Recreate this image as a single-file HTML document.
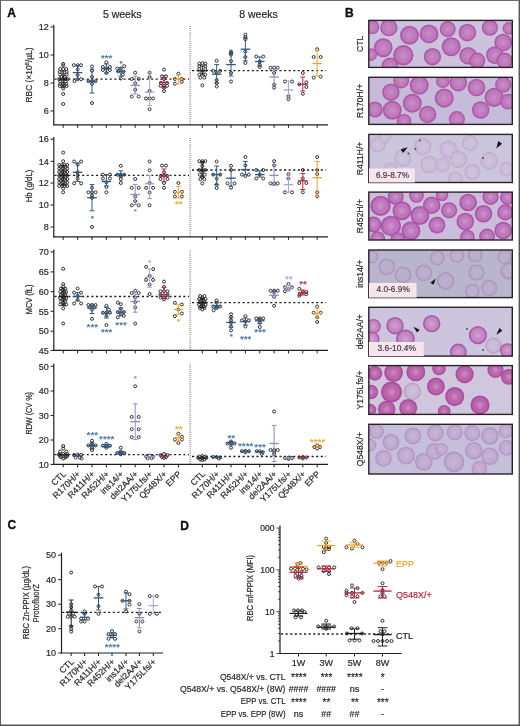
<!DOCTYPE html>
<html><head><meta charset="utf-8"><style>
html,body{margin:0;padding:0;background:#fff;width:520px;height:726px;overflow:hidden}
svg{display:block;filter:blur(0.3px)}
text{font-family:"Liberation Sans",sans-serif}
</style></head><body>
<svg width="520" height="726" viewBox="0 0 520 726">
<rect x="0" y="0" width="520" height="726" fill="#fff"/>
<line x1="53.8" y1="25" x2="53.8" y2="125.3" stroke="#1e1e1e" stroke-width="1.2"/>
<line x1="53.3" y1="124.8" x2="328" y2="124.8" stroke="#1e1e1e" stroke-width="1.2"/>
<line x1="50.5" y1="27" x2="53.8" y2="27" stroke="#1e1e1e" stroke-width="1"/>
<text x="48.8" y="30.2" font-size="9" text-anchor="end" fill="#2a2a2a" stroke="#2a2a2a" stroke-width="0.2">12</text>
<line x1="50.5" y1="55" x2="53.8" y2="55" stroke="#1e1e1e" stroke-width="1"/>
<text x="48.8" y="58.2" font-size="9" text-anchor="end" fill="#2a2a2a" stroke="#2a2a2a" stroke-width="0.2">10</text>
<line x1="50.5" y1="83" x2="53.8" y2="83" stroke="#1e1e1e" stroke-width="1"/>
<text x="48.8" y="86.2" font-size="9" text-anchor="end" fill="#2a2a2a" stroke="#2a2a2a" stroke-width="0.2">8</text>
<line x1="50.5" y1="111" x2="53.8" y2="111" stroke="#1e1e1e" stroke-width="1"/>
<text x="48.8" y="114.2" font-size="9" text-anchor="end" fill="#2a2a2a" stroke="#2a2a2a" stroke-width="0.2">6</text>
<line x1="63.2" y1="124.8" x2="63.2" y2="127.8" stroke="#1e1e1e" stroke-width="1"/>
<line x1="77.6" y1="124.8" x2="77.6" y2="127.8" stroke="#1e1e1e" stroke-width="1"/>
<line x1="92" y1="124.8" x2="92" y2="127.8" stroke="#1e1e1e" stroke-width="1"/>
<line x1="106.4" y1="124.8" x2="106.4" y2="127.8" stroke="#1e1e1e" stroke-width="1"/>
<line x1="120.8" y1="124.8" x2="120.8" y2="127.8" stroke="#1e1e1e" stroke-width="1"/>
<line x1="135.2" y1="124.8" x2="135.2" y2="127.8" stroke="#1e1e1e" stroke-width="1"/>
<line x1="149.6" y1="124.8" x2="149.6" y2="127.8" stroke="#1e1e1e" stroke-width="1"/>
<line x1="164" y1="124.8" x2="164" y2="127.8" stroke="#1e1e1e" stroke-width="1"/>
<line x1="178.4" y1="124.8" x2="178.4" y2="127.8" stroke="#1e1e1e" stroke-width="1"/>
<line x1="202.3" y1="124.8" x2="202.3" y2="127.8" stroke="#1e1e1e" stroke-width="1"/>
<line x1="216.66" y1="124.8" x2="216.66" y2="127.8" stroke="#1e1e1e" stroke-width="1"/>
<line x1="231.02" y1="124.8" x2="231.02" y2="127.8" stroke="#1e1e1e" stroke-width="1"/>
<line x1="245.38" y1="124.8" x2="245.38" y2="127.8" stroke="#1e1e1e" stroke-width="1"/>
<line x1="259.74" y1="124.8" x2="259.74" y2="127.8" stroke="#1e1e1e" stroke-width="1"/>
<line x1="274.1" y1="124.8" x2="274.1" y2="127.8" stroke="#1e1e1e" stroke-width="1"/>
<line x1="288.46" y1="124.8" x2="288.46" y2="127.8" stroke="#1e1e1e" stroke-width="1"/>
<line x1="302.82" y1="124.8" x2="302.82" y2="127.8" stroke="#1e1e1e" stroke-width="1"/>
<line x1="317.18" y1="124.8" x2="317.18" y2="127.8" stroke="#1e1e1e" stroke-width="1"/>
<line x1="190.1" y1="26" x2="190.1" y2="124.8" stroke="#3a3a3a" stroke-width="0.9" stroke-dasharray="0.9 1.2"/>
<text transform="translate(31.81 75) rotate(-90)" font-size="8.6" text-anchor="middle" fill="#2a2a2a" textLength="55" lengthAdjust="spacingAndGlyphs" stroke="#2a2a2a" stroke-width="0.2">RBC (×10<tspan font-size="6" dy="-3">6</tspan><tspan dy="3">/µL)</tspan></text>
<line x1="54.5" y1="79.2" x2="189" y2="79.2" stroke="#1e1e1e" stroke-width="1.3" stroke-dasharray="2.1 2.5"/>
<line x1="192" y1="70.6" x2="326" y2="70.6" stroke="#1e1e1e" stroke-width="1.3" stroke-dasharray="2.1 2.5"/>
<circle cx="63.2" cy="63.9" r="1.5" fill="none" stroke="#333333" stroke-width="1"/>
<circle cx="63.2" cy="65.4" r="1.5" fill="none" stroke="#333333" stroke-width="1"/>
<circle cx="60.2" cy="69" r="1.5" fill="none" stroke="#333333" stroke-width="1"/>
<circle cx="63.2" cy="69" r="1.5" fill="none" stroke="#333333" stroke-width="1"/>
<circle cx="66.2" cy="69" r="1.5" fill="none" stroke="#333333" stroke-width="1"/>
<circle cx="59.7" cy="72" r="1.5" fill="none" stroke="#333333" stroke-width="1"/>
<circle cx="66.7" cy="72" r="1.5" fill="none" stroke="#333333" stroke-width="1"/>
<circle cx="60.2" cy="74.6" r="1.5" fill="none" stroke="#333333" stroke-width="1"/>
<circle cx="63.2" cy="74.6" r="1.5" fill="none" stroke="#333333" stroke-width="1"/>
<circle cx="66.7" cy="74.6" r="1.5" fill="none" stroke="#333333" stroke-width="1"/>
<circle cx="61.4" cy="77" r="1.5" fill="none" stroke="#333333" stroke-width="1"/>
<circle cx="65" cy="77" r="1.5" fill="none" stroke="#333333" stroke-width="1"/>
<circle cx="59.2" cy="79.2" r="1.5" fill="none" stroke="#333333" stroke-width="1"/>
<circle cx="62.2" cy="79.2" r="1.5" fill="none" stroke="#333333" stroke-width="1"/>
<circle cx="65.2" cy="79.2" r="1.5" fill="none" stroke="#333333" stroke-width="1"/>
<circle cx="67.7" cy="79.2" r="1.5" fill="none" stroke="#333333" stroke-width="1"/>
<circle cx="60.2" cy="81.5" r="1.5" fill="none" stroke="#333333" stroke-width="1"/>
<circle cx="65.7" cy="81.5" r="1.5" fill="none" stroke="#333333" stroke-width="1"/>
<circle cx="60.2" cy="83.8" r="1.5" fill="none" stroke="#333333" stroke-width="1"/>
<circle cx="63.2" cy="83.8" r="1.5" fill="none" stroke="#333333" stroke-width="1"/>
<circle cx="66.2" cy="83.8" r="1.5" fill="none" stroke="#333333" stroke-width="1"/>
<circle cx="59.7" cy="86" r="1.5" fill="none" stroke="#333333" stroke-width="1"/>
<circle cx="63.2" cy="86.5" r="1.5" fill="none" stroke="#333333" stroke-width="1"/>
<circle cx="66.7" cy="86" r="1.5" fill="none" stroke="#333333" stroke-width="1"/>
<circle cx="63.2" cy="88.5" r="1.5" fill="none" stroke="#333333" stroke-width="1"/>
<circle cx="63.2" cy="94" r="1.5" fill="none" stroke="#333333" stroke-width="1"/>
<circle cx="63.2" cy="104" r="1.5" fill="none" stroke="#333333" stroke-width="1"/>
<line x1="63.2" y1="71" x2="63.2" y2="87" stroke="#1e1e1e" stroke-width="0.99"/>
<line x1="60.8" y1="71" x2="65.6" y2="71" stroke="#1e1e1e" stroke-width="0.99"/>
<line x1="60.8" y1="87" x2="65.6" y2="87" stroke="#1e1e1e" stroke-width="0.99"/>
<line x1="58.4" y1="79.2" x2="68" y2="79.2" stroke="#1e1e1e" stroke-width="1.32"/>
<circle cx="73.8" cy="65.2" r="1.5" fill="none" stroke="#333333" stroke-width="1"/>
<circle cx="77.6" cy="65.2" r="1.5" fill="none" stroke="#333333" stroke-width="1"/>
<circle cx="81" cy="65.2" r="1.5" fill="none" stroke="#333333" stroke-width="1"/>
<circle cx="77.6" cy="69.4" r="1.5" fill="none" stroke="#333333" stroke-width="1"/>
<circle cx="77.6" cy="75" r="1.5" fill="none" stroke="#333333" stroke-width="1"/>
<circle cx="77.6" cy="79.2" r="1.5" fill="none" stroke="#333333" stroke-width="1"/>
<circle cx="81.1" cy="79.2" r="1.5" fill="none" stroke="#333333" stroke-width="1"/>
<circle cx="74.6" cy="81.1" r="1.5" fill="none" stroke="#333333" stroke-width="1"/>
<line x1="77.6" y1="65.5" x2="77.6" y2="79" stroke="#2b5886" stroke-width="0.99"/>
<line x1="75.2" y1="65.5" x2="80" y2="65.5" stroke="#2b5886" stroke-width="0.99"/>
<line x1="75.2" y1="79" x2="80" y2="79" stroke="#2b5886" stroke-width="0.99"/>
<line x1="72.8" y1="72.6" x2="82.4" y2="72.6" stroke="#2b5886" stroke-width="1.32"/>
<circle cx="92" cy="66.5" r="1.5" fill="none" stroke="#333333" stroke-width="1"/>
<circle cx="92" cy="70.8" r="1.5" fill="none" stroke="#333333" stroke-width="1"/>
<circle cx="92" cy="77" r="1.5" fill="none" stroke="#333333" stroke-width="1"/>
<circle cx="88.5" cy="81.2" r="1.5" fill="none" stroke="#333333" stroke-width="1"/>
<circle cx="92" cy="81.2" r="1.5" fill="none" stroke="#333333" stroke-width="1"/>
<circle cx="95.5" cy="81.2" r="1.5" fill="none" stroke="#333333" stroke-width="1"/>
<circle cx="92" cy="83.8" r="1.5" fill="none" stroke="#333333" stroke-width="1"/>
<circle cx="92" cy="103" r="1.5" fill="none" stroke="#333333" stroke-width="1"/>
<line x1="92" y1="69.2" x2="92" y2="93" stroke="#2b5886" stroke-width="0.99"/>
<line x1="89.6" y1="69.2" x2="94.4" y2="69.2" stroke="#2b5886" stroke-width="0.99"/>
<line x1="89.6" y1="93" x2="94.4" y2="93" stroke="#2b5886" stroke-width="0.99"/>
<line x1="87.2" y1="81.2" x2="96.8" y2="81.2" stroke="#2b5886" stroke-width="1.32"/>
<circle cx="106.4" cy="62.3" r="1.5" fill="none" stroke="#333333" stroke-width="1"/>
<circle cx="102.9" cy="67" r="1.5" fill="none" stroke="#333333" stroke-width="1"/>
<circle cx="109.9" cy="67" r="1.5" fill="none" stroke="#333333" stroke-width="1"/>
<circle cx="106.4" cy="68.5" r="1.5" fill="none" stroke="#333333" stroke-width="1"/>
<circle cx="102.9" cy="70" r="1.5" fill="none" stroke="#333333" stroke-width="1"/>
<circle cx="109.9" cy="70" r="1.5" fill="none" stroke="#333333" stroke-width="1"/>
<circle cx="106.4" cy="73" r="1.5" fill="none" stroke="#333333" stroke-width="1"/>
<line x1="106.4" y1="64" x2="106.4" y2="73" stroke="#2b5886" stroke-width="0.99"/>
<line x1="104" y1="64" x2="108.8" y2="64" stroke="#2b5886" stroke-width="0.99"/>
<line x1="104" y1="73" x2="108.8" y2="73" stroke="#2b5886" stroke-width="0.99"/>
<line x1="101.6" y1="68.5" x2="111.2" y2="68.5" stroke="#2b5886" stroke-width="1.32"/>
<text x="106.7" y="61" font-size="9.8" text-anchor="middle" fill="#3d6fa8" stroke="#3d6fa8" stroke-width="0.2">***</text>
<circle cx="124.3" cy="66.2" r="1.5" fill="none" stroke="#333333" stroke-width="1"/>
<circle cx="117.3" cy="68.5" r="1.5" fill="none" stroke="#333333" stroke-width="1"/>
<circle cx="120.8" cy="68.5" r="1.5" fill="none" stroke="#333333" stroke-width="1"/>
<circle cx="118.3" cy="71.5" r="1.5" fill="none" stroke="#333333" stroke-width="1"/>
<circle cx="123.3" cy="71.5" r="1.5" fill="none" stroke="#333333" stroke-width="1"/>
<circle cx="122.8" cy="74.6" r="1.5" fill="none" stroke="#333333" stroke-width="1"/>
<circle cx="120.8" cy="78.5" r="1.5" fill="none" stroke="#333333" stroke-width="1"/>
<line x1="120.8" y1="67.7" x2="120.8" y2="76" stroke="#2b5886" stroke-width="0.99"/>
<line x1="118.4" y1="67.7" x2="123.2" y2="67.7" stroke="#2b5886" stroke-width="0.99"/>
<line x1="118.4" y1="76" x2="123.2" y2="76" stroke="#2b5886" stroke-width="0.99"/>
<line x1="116" y1="71.5" x2="125.6" y2="71.5" stroke="#2b5886" stroke-width="1.32"/>
<text x="121" y="66.4" font-size="8" text-anchor="middle" fill="#3d6fa8" stroke="#3d6fa8" stroke-width="0.2">*</text>
<circle cx="135.2" cy="72.7" r="1.5" fill="none" stroke="#333333" stroke-width="1"/>
<circle cx="131.7" cy="79" r="1.5" fill="none" stroke="#333333" stroke-width="1"/>
<circle cx="138.7" cy="79" r="1.5" fill="none" stroke="#333333" stroke-width="1"/>
<circle cx="135.2" cy="83.3" r="1.5" fill="none" stroke="#333333" stroke-width="1"/>
<circle cx="135.2" cy="89.8" r="1.5" fill="none" stroke="#333333" stroke-width="1"/>
<circle cx="131.7" cy="96.5" r="1.5" fill="none" stroke="#333333" stroke-width="1"/>
<circle cx="138.7" cy="96.5" r="1.5" fill="none" stroke="#333333" stroke-width="1"/>
<line x1="135.2" y1="76.3" x2="135.2" y2="93.8" stroke="#8a8cc4" stroke-width="0.99"/>
<line x1="132.8" y1="76.3" x2="137.6" y2="76.3" stroke="#8a8cc4" stroke-width="0.99"/>
<line x1="132.8" y1="93.8" x2="137.6" y2="93.8" stroke="#8a8cc4" stroke-width="0.99"/>
<line x1="130.4" y1="85.4" x2="140" y2="85.4" stroke="#8a8cc4" stroke-width="1.32"/>
<circle cx="149.6" cy="72.7" r="1.5" fill="none" stroke="#333333" stroke-width="1"/>
<circle cx="149.6" cy="77" r="1.5" fill="none" stroke="#333333" stroke-width="1"/>
<circle cx="149.6" cy="90.9" r="1.5" fill="none" stroke="#333333" stroke-width="1"/>
<circle cx="146" cy="98.5" r="1.5" fill="none" stroke="#333333" stroke-width="1"/>
<circle cx="149.6" cy="98.5" r="1.5" fill="none" stroke="#333333" stroke-width="1"/>
<circle cx="153.2" cy="98.5" r="1.5" fill="none" stroke="#333333" stroke-width="1"/>
<circle cx="149.6" cy="109.3" r="1.5" fill="none" stroke="#333333" stroke-width="1"/>
<line x1="149.6" y1="72.3" x2="149.6" y2="105.5" stroke="#a3a4dc" stroke-width="0.99"/>
<line x1="147.2" y1="72.3" x2="152" y2="72.3" stroke="#a3a4dc" stroke-width="0.99"/>
<line x1="147.2" y1="105.5" x2="152" y2="105.5" stroke="#a3a4dc" stroke-width="0.99"/>
<line x1="144.8" y1="92.2" x2="154.4" y2="92.2" stroke="#a3a4dc" stroke-width="1.32"/>
<circle cx="164" cy="69.6" r="1.5" fill="none" stroke="#333333" stroke-width="1"/>
<circle cx="162" cy="76.3" r="1.5" fill="none" stroke="#333333" stroke-width="1"/>
<circle cx="166" cy="76.3" r="1.5" fill="none" stroke="#333333" stroke-width="1"/>
<circle cx="164" cy="79" r="1.5" fill="none" stroke="#333333" stroke-width="1"/>
<circle cx="161" cy="83" r="1.5" fill="none" stroke="#333333" stroke-width="1"/>
<circle cx="167" cy="83" r="1.5" fill="none" stroke="#333333" stroke-width="1"/>
<circle cx="160.5" cy="85.8" r="1.5" fill="none" stroke="#333333" stroke-width="1"/>
<circle cx="164" cy="85.8" r="1.5" fill="none" stroke="#333333" stroke-width="1"/>
<circle cx="167" cy="85.8" r="1.5" fill="none" stroke="#333333" stroke-width="1"/>
<circle cx="164" cy="87.8" r="1.5" fill="none" stroke="#333333" stroke-width="1"/>
<circle cx="164" cy="91.1" r="1.5" fill="none" stroke="#333333" stroke-width="1"/>
<line x1="164" y1="75.7" x2="164" y2="87.8" stroke="#c0203e" stroke-width="0.99"/>
<line x1="161.6" y1="75.7" x2="166.4" y2="75.7" stroke="#c0203e" stroke-width="0.99"/>
<line x1="161.6" y1="87.8" x2="166.4" y2="87.8" stroke="#c0203e" stroke-width="0.99"/>
<line x1="159.2" y1="82.4" x2="168.8" y2="82.4" stroke="#c0203e" stroke-width="1.32"/>
<circle cx="178.4" cy="73.6" r="1.5" fill="none" stroke="#333333" stroke-width="1"/>
<circle cx="174.9" cy="79" r="1.5" fill="none" stroke="#333333" stroke-width="1"/>
<circle cx="181.9" cy="79" r="1.5" fill="none" stroke="#333333" stroke-width="1"/>
<circle cx="181.9" cy="81.7" r="1.5" fill="none" stroke="#333333" stroke-width="1"/>
<circle cx="174.9" cy="83.7" r="1.5" fill="none" stroke="#333333" stroke-width="1"/>
<line x1="178.4" y1="75" x2="178.4" y2="84" stroke="#f2a22a" stroke-width="0.99"/>
<line x1="176" y1="75" x2="180.8" y2="75" stroke="#f2a22a" stroke-width="0.99"/>
<line x1="176" y1="84" x2="180.8" y2="84" stroke="#f2a22a" stroke-width="0.99"/>
<line x1="173.6" y1="79.4" x2="183.2" y2="79.4" stroke="#f2a22a" stroke-width="1.32"/>
<circle cx="199.3" cy="63.5" r="1.5" fill="none" stroke="#333333" stroke-width="1"/>
<circle cx="202.3" cy="63.2" r="1.5" fill="none" stroke="#333333" stroke-width="1"/>
<circle cx="205.3" cy="63.5" r="1.5" fill="none" stroke="#333333" stroke-width="1"/>
<circle cx="199.3" cy="66.2" r="1.5" fill="none" stroke="#333333" stroke-width="1"/>
<circle cx="205.3" cy="66.2" r="1.5" fill="none" stroke="#333333" stroke-width="1"/>
<circle cx="199.3" cy="69" r="1.5" fill="none" stroke="#333333" stroke-width="1"/>
<circle cx="205.3" cy="69" r="1.5" fill="none" stroke="#333333" stroke-width="1"/>
<circle cx="202.3" cy="72.3" r="1.5" fill="none" stroke="#333333" stroke-width="1"/>
<circle cx="199.3" cy="74.6" r="1.5" fill="none" stroke="#333333" stroke-width="1"/>
<circle cx="205.3" cy="74.6" r="1.5" fill="none" stroke="#333333" stroke-width="1"/>
<circle cx="200.3" cy="77.7" r="1.5" fill="none" stroke="#333333" stroke-width="1"/>
<circle cx="204.3" cy="77.7" r="1.5" fill="none" stroke="#333333" stroke-width="1"/>
<circle cx="202.3" cy="85.4" r="1.5" fill="none" stroke="#333333" stroke-width="1"/>
<line x1="202.3" y1="66" x2="202.3" y2="75" stroke="#1e1e1e" stroke-width="0.99"/>
<line x1="199.9" y1="66" x2="204.7" y2="66" stroke="#1e1e1e" stroke-width="0.99"/>
<line x1="199.9" y1="75" x2="204.7" y2="75" stroke="#1e1e1e" stroke-width="0.99"/>
<line x1="197.5" y1="70.8" x2="207.1" y2="70.8" stroke="#1e1e1e" stroke-width="1.32"/>
<circle cx="216.66" cy="60.8" r="1.5" fill="none" stroke="#333333" stroke-width="1"/>
<circle cx="213.16" cy="70.8" r="1.5" fill="none" stroke="#333333" stroke-width="1"/>
<circle cx="220.16" cy="70.8" r="1.5" fill="none" stroke="#333333" stroke-width="1"/>
<circle cx="216.66" cy="73" r="1.5" fill="none" stroke="#333333" stroke-width="1"/>
<circle cx="216.66" cy="80" r="1.5" fill="none" stroke="#333333" stroke-width="1"/>
<circle cx="216.66" cy="83" r="1.5" fill="none" stroke="#333333" stroke-width="1"/>
<circle cx="216.66" cy="86.5" r="1.5" fill="none" stroke="#333333" stroke-width="1"/>
<line x1="216.66" y1="64.6" x2="216.66" y2="83" stroke="#2b5886" stroke-width="0.99"/>
<line x1="214.26" y1="64.6" x2="219.06" y2="64.6" stroke="#2b5886" stroke-width="0.99"/>
<line x1="214.26" y1="83" x2="219.06" y2="83" stroke="#2b5886" stroke-width="0.99"/>
<line x1="211.86" y1="74.2" x2="221.46" y2="74.2" stroke="#2b5886" stroke-width="1.32"/>
<circle cx="231.02" cy="51.5" r="1.5" fill="none" stroke="#333333" stroke-width="1"/>
<circle cx="231.02" cy="53" r="1.5" fill="none" stroke="#333333" stroke-width="1"/>
<circle cx="231.02" cy="54.6" r="1.5" fill="none" stroke="#333333" stroke-width="1"/>
<circle cx="231.02" cy="61.2" r="1.5" fill="none" stroke="#333333" stroke-width="1"/>
<circle cx="231.02" cy="73" r="1.5" fill="none" stroke="#333333" stroke-width="1"/>
<circle cx="231.02" cy="81.5" r="1.5" fill="none" stroke="#333333" stroke-width="1"/>
<line x1="231.02" y1="53.5" x2="231.02" y2="76" stroke="#2b5886" stroke-width="0.99"/>
<line x1="228.62" y1="53.5" x2="233.42" y2="53.5" stroke="#2b5886" stroke-width="0.99"/>
<line x1="228.62" y1="76" x2="233.42" y2="76" stroke="#2b5886" stroke-width="0.99"/>
<line x1="226.22" y1="64.6" x2="235.82" y2="64.6" stroke="#2b5886" stroke-width="1.32"/>
<circle cx="245.38" cy="34.6" r="1.5" fill="none" stroke="#333333" stroke-width="1"/>
<circle cx="245.38" cy="37" r="1.5" fill="none" stroke="#333333" stroke-width="1"/>
<circle cx="245.38" cy="39.2" r="1.5" fill="none" stroke="#333333" stroke-width="1"/>
<circle cx="245.38" cy="51.5" r="1.5" fill="none" stroke="#333333" stroke-width="1"/>
<circle cx="245.38" cy="57" r="1.5" fill="none" stroke="#333333" stroke-width="1"/>
<circle cx="245.38" cy="63" r="1.5" fill="none" stroke="#333333" stroke-width="1"/>
<line x1="245.38" y1="38" x2="245.38" y2="60.8" stroke="#2b5886" stroke-width="0.99"/>
<line x1="242.98" y1="38" x2="247.78" y2="38" stroke="#2b5886" stroke-width="0.99"/>
<line x1="242.98" y1="60.8" x2="247.78" y2="60.8" stroke="#2b5886" stroke-width="0.99"/>
<line x1="240.58" y1="49.2" x2="250.18" y2="49.2" stroke="#2b5886" stroke-width="1.32"/>
<circle cx="256.24" cy="56.5" r="1.5" fill="none" stroke="#333333" stroke-width="1"/>
<circle cx="263.24" cy="56.5" r="1.5" fill="none" stroke="#333333" stroke-width="1"/>
<circle cx="259.74" cy="61.5" r="1.5" fill="none" stroke="#333333" stroke-width="1"/>
<circle cx="259.74" cy="64.6" r="1.5" fill="none" stroke="#333333" stroke-width="1"/>
<circle cx="259.74" cy="67" r="1.5" fill="none" stroke="#333333" stroke-width="1"/>
<line x1="259.74" y1="57" x2="259.74" y2="66" stroke="#2b5886" stroke-width="0.99"/>
<line x1="257.34" y1="57" x2="262.14" y2="57" stroke="#2b5886" stroke-width="0.99"/>
<line x1="257.34" y1="66" x2="262.14" y2="66" stroke="#2b5886" stroke-width="0.99"/>
<line x1="254.94" y1="61.5" x2="264.54" y2="61.5" stroke="#2b5886" stroke-width="1.32"/>
<circle cx="270.6" cy="67.7" r="1.5" fill="none" stroke="#333333" stroke-width="1"/>
<circle cx="274.1" cy="67.7" r="1.5" fill="none" stroke="#333333" stroke-width="1"/>
<circle cx="277.6" cy="67.7" r="1.5" fill="none" stroke="#333333" stroke-width="1"/>
<circle cx="274.1" cy="73" r="1.5" fill="none" stroke="#333333" stroke-width="1"/>
<circle cx="274.1" cy="84.6" r="1.5" fill="none" stroke="#333333" stroke-width="1"/>
<circle cx="274.1" cy="87.7" r="1.5" fill="none" stroke="#333333" stroke-width="1"/>
<line x1="274.1" y1="70" x2="274.1" y2="85" stroke="#8a8cc4" stroke-width="0.99"/>
<line x1="271.7" y1="70" x2="276.5" y2="70" stroke="#8a8cc4" stroke-width="0.99"/>
<line x1="271.7" y1="85" x2="276.5" y2="85" stroke="#8a8cc4" stroke-width="0.99"/>
<line x1="269.3" y1="77" x2="278.9" y2="77" stroke="#8a8cc4" stroke-width="1.32"/>
<circle cx="284.96" cy="81.5" r="1.5" fill="none" stroke="#333333" stroke-width="1"/>
<circle cx="291.96" cy="81.5" r="1.5" fill="none" stroke="#333333" stroke-width="1"/>
<circle cx="288.46" cy="96.2" r="1.5" fill="none" stroke="#333333" stroke-width="1"/>
<circle cx="288.46" cy="99.2" r="1.5" fill="none" stroke="#333333" stroke-width="1"/>
<line x1="288.46" y1="80.8" x2="288.46" y2="99" stroke="#a3a4dc" stroke-width="0.99"/>
<line x1="286.06" y1="80.8" x2="290.86" y2="80.8" stroke="#a3a4dc" stroke-width="0.99"/>
<line x1="286.06" y1="99" x2="290.86" y2="99" stroke="#a3a4dc" stroke-width="0.99"/>
<line x1="283.66" y1="90" x2="293.26" y2="90" stroke="#a3a4dc" stroke-width="1.32"/>
<circle cx="302.82" cy="73" r="1.5" fill="none" stroke="#333333" stroke-width="1"/>
<circle cx="306.32" cy="82.3" r="1.5" fill="none" stroke="#333333" stroke-width="1"/>
<circle cx="299.32" cy="84.3" r="1.5" fill="none" stroke="#333333" stroke-width="1"/>
<circle cx="306.32" cy="87" r="1.5" fill="none" stroke="#333333" stroke-width="1"/>
<circle cx="302.82" cy="93.8" r="1.5" fill="none" stroke="#333333" stroke-width="1"/>
<line x1="302.82" y1="77" x2="302.82" y2="91" stroke="#c0203e" stroke-width="0.99"/>
<line x1="300.42" y1="77" x2="305.22" y2="77" stroke="#c0203e" stroke-width="0.99"/>
<line x1="300.42" y1="91" x2="305.22" y2="91" stroke="#c0203e" stroke-width="0.99"/>
<line x1="298.02" y1="84.3" x2="307.62" y2="84.3" stroke="#c0203e" stroke-width="1.32"/>
<circle cx="317.18" cy="49.2" r="1.5" fill="none" stroke="#333333" stroke-width="1"/>
<circle cx="313.68" cy="57" r="1.5" fill="none" stroke="#333333" stroke-width="1"/>
<circle cx="320.68" cy="57" r="1.5" fill="none" stroke="#333333" stroke-width="1"/>
<circle cx="313.68" cy="77.7" r="1.5" fill="none" stroke="#333333" stroke-width="1"/>
<circle cx="320.68" cy="76.6" r="1.5" fill="none" stroke="#333333" stroke-width="1"/>
<line x1="317.18" y1="50.8" x2="317.18" y2="76" stroke="#f2a22a" stroke-width="0.99"/>
<line x1="314.78" y1="50.8" x2="319.58" y2="50.8" stroke="#f2a22a" stroke-width="0.99"/>
<line x1="314.78" y1="76" x2="319.58" y2="76" stroke="#f2a22a" stroke-width="0.99"/>
<line x1="312.38" y1="63.5" x2="321.98" y2="63.5" stroke="#f2a22a" stroke-width="1.32"/>
<line x1="53.8" y1="137" x2="53.8" y2="237.4" stroke="#1e1e1e" stroke-width="1.2"/>
<line x1="53.3" y1="236.9" x2="328" y2="236.9" stroke="#1e1e1e" stroke-width="1.2"/>
<line x1="50.5" y1="139.2" x2="53.8" y2="139.2" stroke="#1e1e1e" stroke-width="1"/>
<text x="48.8" y="142.4" font-size="9" text-anchor="end" fill="#2a2a2a" stroke="#2a2a2a" stroke-width="0.2">16</text>
<line x1="50.5" y1="161.3" x2="53.8" y2="161.3" stroke="#1e1e1e" stroke-width="1"/>
<text x="48.8" y="164.5" font-size="9" text-anchor="end" fill="#2a2a2a" stroke="#2a2a2a" stroke-width="0.2">14</text>
<line x1="50.5" y1="183" x2="53.8" y2="183" stroke="#1e1e1e" stroke-width="1"/>
<text x="48.8" y="186.2" font-size="9" text-anchor="end" fill="#2a2a2a" stroke="#2a2a2a" stroke-width="0.2">12</text>
<line x1="50.5" y1="205" x2="53.8" y2="205" stroke="#1e1e1e" stroke-width="1"/>
<text x="48.8" y="208.2" font-size="9" text-anchor="end" fill="#2a2a2a" stroke="#2a2a2a" stroke-width="0.2">10</text>
<line x1="50.5" y1="227" x2="53.8" y2="227" stroke="#1e1e1e" stroke-width="1"/>
<text x="48.8" y="230.2" font-size="9" text-anchor="end" fill="#2a2a2a" stroke="#2a2a2a" stroke-width="0.2">8</text>
<line x1="63.2" y1="236.9" x2="63.2" y2="239.9" stroke="#1e1e1e" stroke-width="1"/>
<line x1="77.6" y1="236.9" x2="77.6" y2="239.9" stroke="#1e1e1e" stroke-width="1"/>
<line x1="92" y1="236.9" x2="92" y2="239.9" stroke="#1e1e1e" stroke-width="1"/>
<line x1="106.4" y1="236.9" x2="106.4" y2="239.9" stroke="#1e1e1e" stroke-width="1"/>
<line x1="120.8" y1="236.9" x2="120.8" y2="239.9" stroke="#1e1e1e" stroke-width="1"/>
<line x1="135.2" y1="236.9" x2="135.2" y2="239.9" stroke="#1e1e1e" stroke-width="1"/>
<line x1="149.6" y1="236.9" x2="149.6" y2="239.9" stroke="#1e1e1e" stroke-width="1"/>
<line x1="164" y1="236.9" x2="164" y2="239.9" stroke="#1e1e1e" stroke-width="1"/>
<line x1="178.4" y1="236.9" x2="178.4" y2="239.9" stroke="#1e1e1e" stroke-width="1"/>
<line x1="202.3" y1="236.9" x2="202.3" y2="239.9" stroke="#1e1e1e" stroke-width="1"/>
<line x1="216.66" y1="236.9" x2="216.66" y2="239.9" stroke="#1e1e1e" stroke-width="1"/>
<line x1="231.02" y1="236.9" x2="231.02" y2="239.9" stroke="#1e1e1e" stroke-width="1"/>
<line x1="245.38" y1="236.9" x2="245.38" y2="239.9" stroke="#1e1e1e" stroke-width="1"/>
<line x1="259.74" y1="236.9" x2="259.74" y2="239.9" stroke="#1e1e1e" stroke-width="1"/>
<line x1="274.1" y1="236.9" x2="274.1" y2="239.9" stroke="#1e1e1e" stroke-width="1"/>
<line x1="288.46" y1="236.9" x2="288.46" y2="239.9" stroke="#1e1e1e" stroke-width="1"/>
<line x1="302.82" y1="236.9" x2="302.82" y2="239.9" stroke="#1e1e1e" stroke-width="1"/>
<line x1="317.18" y1="236.9" x2="317.18" y2="239.9" stroke="#1e1e1e" stroke-width="1"/>
<line x1="190.1" y1="138" x2="190.1" y2="236.9" stroke="#3a3a3a" stroke-width="0.9" stroke-dasharray="0.9 1.2"/>
<text transform="translate(31.81 186) rotate(-90)" font-size="8.6" text-anchor="middle" fill="#2a2a2a" textLength="32.7" lengthAdjust="spacingAndGlyphs" stroke="#2a2a2a" stroke-width="0.2">Hb (g/dL)</text>
<line x1="54.5" y1="175.4" x2="189" y2="175.4" stroke="#1e1e1e" stroke-width="1.3" stroke-dasharray="2.1 2.5"/>
<line x1="192" y1="170" x2="326" y2="170" stroke="#1e1e1e" stroke-width="1.3" stroke-dasharray="2.1 2.5"/>
<circle cx="63.2" cy="152.6" r="1.5" fill="none" stroke="#333333" stroke-width="1"/>
<circle cx="63.2" cy="161.2" r="1.5" fill="none" stroke="#333333" stroke-width="1"/>
<circle cx="59.2" cy="165" r="1.5" fill="none" stroke="#333333" stroke-width="1"/>
<circle cx="61.9" cy="165" r="1.5" fill="none" stroke="#333333" stroke-width="1"/>
<circle cx="64.5" cy="165" r="1.5" fill="none" stroke="#333333" stroke-width="1"/>
<circle cx="67.2" cy="165" r="1.5" fill="none" stroke="#333333" stroke-width="1"/>
<circle cx="60.6" cy="166.8" r="1.5" fill="none" stroke="#333333" stroke-width="1"/>
<circle cx="65.8" cy="166.8" r="1.5" fill="none" stroke="#333333" stroke-width="1"/>
<circle cx="59.2" cy="168.5" r="1.5" fill="none" stroke="#333333" stroke-width="1"/>
<circle cx="63.2" cy="168.5" r="1.5" fill="none" stroke="#333333" stroke-width="1"/>
<circle cx="67.2" cy="168.5" r="1.5" fill="none" stroke="#333333" stroke-width="1"/>
<circle cx="61.2" cy="170.2" r="1.5" fill="none" stroke="#333333" stroke-width="1"/>
<circle cx="65.2" cy="170.2" r="1.5" fill="none" stroke="#333333" stroke-width="1"/>
<circle cx="59.2" cy="172" r="1.5" fill="none" stroke="#333333" stroke-width="1"/>
<circle cx="61.9" cy="172" r="1.5" fill="none" stroke="#333333" stroke-width="1"/>
<circle cx="64.5" cy="172" r="1.5" fill="none" stroke="#333333" stroke-width="1"/>
<circle cx="67.2" cy="172" r="1.5" fill="none" stroke="#333333" stroke-width="1"/>
<circle cx="60.6" cy="173.8" r="1.5" fill="none" stroke="#333333" stroke-width="1"/>
<circle cx="65.8" cy="173.8" r="1.5" fill="none" stroke="#333333" stroke-width="1"/>
<circle cx="59.2" cy="175.5" r="1.5" fill="none" stroke="#333333" stroke-width="1"/>
<circle cx="63.2" cy="175.5" r="1.5" fill="none" stroke="#333333" stroke-width="1"/>
<circle cx="67.2" cy="175.5" r="1.5" fill="none" stroke="#333333" stroke-width="1"/>
<circle cx="61.2" cy="177.2" r="1.5" fill="none" stroke="#333333" stroke-width="1"/>
<circle cx="65.2" cy="177.2" r="1.5" fill="none" stroke="#333333" stroke-width="1"/>
<circle cx="59.2" cy="179" r="1.5" fill="none" stroke="#333333" stroke-width="1"/>
<circle cx="61.9" cy="179" r="1.5" fill="none" stroke="#333333" stroke-width="1"/>
<circle cx="64.5" cy="179" r="1.5" fill="none" stroke="#333333" stroke-width="1"/>
<circle cx="67.2" cy="179" r="1.5" fill="none" stroke="#333333" stroke-width="1"/>
<circle cx="60.6" cy="180.8" r="1.5" fill="none" stroke="#333333" stroke-width="1"/>
<circle cx="65.8" cy="180.8" r="1.5" fill="none" stroke="#333333" stroke-width="1"/>
<circle cx="59.2" cy="182.5" r="1.5" fill="none" stroke="#333333" stroke-width="1"/>
<circle cx="63.2" cy="182.5" r="1.5" fill="none" stroke="#333333" stroke-width="1"/>
<circle cx="67.2" cy="182.5" r="1.5" fill="none" stroke="#333333" stroke-width="1"/>
<circle cx="61.2" cy="184.2" r="1.5" fill="none" stroke="#333333" stroke-width="1"/>
<circle cx="65.2" cy="184.2" r="1.5" fill="none" stroke="#333333" stroke-width="1"/>
<circle cx="59.2" cy="186" r="1.5" fill="none" stroke="#333333" stroke-width="1"/>
<circle cx="61.9" cy="186" r="1.5" fill="none" stroke="#333333" stroke-width="1"/>
<circle cx="64.5" cy="186" r="1.5" fill="none" stroke="#333333" stroke-width="1"/>
<circle cx="67.2" cy="186" r="1.5" fill="none" stroke="#333333" stroke-width="1"/>
<circle cx="63.2" cy="188.5" r="1.5" fill="none" stroke="#333333" stroke-width="1"/>
<circle cx="63.2" cy="192.3" r="1.5" fill="none" stroke="#333333" stroke-width="1"/>
<line x1="63.2" y1="165.4" x2="63.2" y2="184.6" stroke="#1e1e1e" stroke-width="0.99"/>
<line x1="60.8" y1="165.4" x2="65.6" y2="165.4" stroke="#1e1e1e" stroke-width="0.99"/>
<line x1="60.8" y1="184.6" x2="65.6" y2="184.6" stroke="#1e1e1e" stroke-width="0.99"/>
<line x1="58.4" y1="175.4" x2="68" y2="175.4" stroke="#1e1e1e" stroke-width="1.32"/>
<circle cx="74.1" cy="161.5" r="1.5" fill="none" stroke="#333333" stroke-width="1"/>
<circle cx="81.1" cy="161.5" r="1.5" fill="none" stroke="#333333" stroke-width="1"/>
<circle cx="77.6" cy="164.6" r="1.5" fill="none" stroke="#333333" stroke-width="1"/>
<circle cx="77.6" cy="172.3" r="1.5" fill="none" stroke="#333333" stroke-width="1"/>
<circle cx="77.6" cy="175.4" r="1.5" fill="none" stroke="#333333" stroke-width="1"/>
<circle cx="77.6" cy="178.5" r="1.5" fill="none" stroke="#333333" stroke-width="1"/>
<circle cx="74.1" cy="183.4" r="1.5" fill="none" stroke="#333333" stroke-width="1"/>
<circle cx="81.1" cy="183.4" r="1.5" fill="none" stroke="#333333" stroke-width="1"/>
<line x1="77.6" y1="163" x2="77.6" y2="181.5" stroke="#2b5886" stroke-width="0.99"/>
<line x1="75.2" y1="163" x2="80" y2="163" stroke="#2b5886" stroke-width="0.99"/>
<line x1="75.2" y1="181.5" x2="80" y2="181.5" stroke="#2b5886" stroke-width="0.99"/>
<line x1="72.8" y1="172.3" x2="82.4" y2="172.3" stroke="#2b5886" stroke-width="1.32"/>
<circle cx="92" cy="187.7" r="1.5" fill="none" stroke="#333333" stroke-width="1"/>
<circle cx="88.4" cy="192.3" r="1.5" fill="none" stroke="#333333" stroke-width="1"/>
<circle cx="92" cy="192.3" r="1.5" fill="none" stroke="#333333" stroke-width="1"/>
<circle cx="95.6" cy="192.3" r="1.5" fill="none" stroke="#333333" stroke-width="1"/>
<circle cx="92" cy="195.4" r="1.5" fill="none" stroke="#333333" stroke-width="1"/>
<circle cx="92" cy="197.7" r="1.5" fill="none" stroke="#333333" stroke-width="1"/>
<circle cx="92" cy="227" r="1.5" fill="none" stroke="#333333" stroke-width="1"/>
<line x1="92" y1="184.6" x2="92" y2="210.8" stroke="#2b5886" stroke-width="0.99"/>
<line x1="89.6" y1="184.6" x2="94.4" y2="184.6" stroke="#2b5886" stroke-width="0.99"/>
<line x1="89.6" y1="210.8" x2="94.4" y2="210.8" stroke="#2b5886" stroke-width="0.99"/>
<line x1="87.2" y1="197.7" x2="96.8" y2="197.7" stroke="#2b5886" stroke-width="1.32"/>
<text x="92.2" y="220.7" font-size="8" text-anchor="middle" fill="#3d6fa8" stroke="#3d6fa8" stroke-width="0.2">*</text>
<circle cx="102.9" cy="174.6" r="1.5" fill="none" stroke="#333333" stroke-width="1"/>
<circle cx="109.9" cy="174.6" r="1.5" fill="none" stroke="#333333" stroke-width="1"/>
<circle cx="102.9" cy="178.5" r="1.5" fill="none" stroke="#333333" stroke-width="1"/>
<circle cx="109.9" cy="178.5" r="1.5" fill="none" stroke="#333333" stroke-width="1"/>
<circle cx="106.4" cy="182.3" r="1.5" fill="none" stroke="#333333" stroke-width="1"/>
<circle cx="106.4" cy="187" r="1.5" fill="none" stroke="#333333" stroke-width="1"/>
<circle cx="106.4" cy="192.3" r="1.5" fill="none" stroke="#333333" stroke-width="1"/>
<line x1="106.4" y1="174.6" x2="106.4" y2="186" stroke="#2b5886" stroke-width="0.99"/>
<line x1="104" y1="174.6" x2="108.8" y2="174.6" stroke="#2b5886" stroke-width="0.99"/>
<line x1="104" y1="186" x2="108.8" y2="186" stroke="#2b5886" stroke-width="0.99"/>
<line x1="101.6" y1="181.5" x2="111.2" y2="181.5" stroke="#2b5886" stroke-width="1.32"/>
<circle cx="120.8" cy="165.8" r="1.5" fill="none" stroke="#333333" stroke-width="1"/>
<circle cx="117.3" cy="174.6" r="1.5" fill="none" stroke="#333333" stroke-width="1"/>
<circle cx="120.8" cy="174.6" r="1.5" fill="none" stroke="#333333" stroke-width="1"/>
<circle cx="124.3" cy="174.6" r="1.5" fill="none" stroke="#333333" stroke-width="1"/>
<circle cx="120.8" cy="176.2" r="1.5" fill="none" stroke="#333333" stroke-width="1"/>
<circle cx="120.8" cy="179.2" r="1.5" fill="none" stroke="#333333" stroke-width="1"/>
<circle cx="120.8" cy="183" r="1.5" fill="none" stroke="#333333" stroke-width="1"/>
<line x1="120.8" y1="170.8" x2="120.8" y2="177" stroke="#2b5886" stroke-width="0.99"/>
<line x1="118.4" y1="170.8" x2="123.2" y2="170.8" stroke="#2b5886" stroke-width="0.99"/>
<line x1="118.4" y1="177" x2="123.2" y2="177" stroke="#2b5886" stroke-width="0.99"/>
<line x1="116" y1="174.6" x2="125.6" y2="174.6" stroke="#2b5886" stroke-width="1.32"/>
<circle cx="135.2" cy="179" r="1.5" fill="none" stroke="#333333" stroke-width="1"/>
<circle cx="131.7" cy="187.8" r="1.5" fill="none" stroke="#333333" stroke-width="1"/>
<circle cx="138.7" cy="187.8" r="1.5" fill="none" stroke="#333333" stroke-width="1"/>
<circle cx="135.2" cy="196.5" r="1.5" fill="none" stroke="#333333" stroke-width="1"/>
<circle cx="135.2" cy="201.2" r="1.5" fill="none" stroke="#333333" stroke-width="1"/>
<circle cx="131.7" cy="205.3" r="1.5" fill="none" stroke="#333333" stroke-width="1"/>
<circle cx="138.7" cy="205.3" r="1.5" fill="none" stroke="#333333" stroke-width="1"/>
<line x1="135.2" y1="184.4" x2="135.2" y2="204.6" stroke="#8a8cc4" stroke-width="0.99"/>
<line x1="132.8" y1="184.4" x2="137.6" y2="184.4" stroke="#8a8cc4" stroke-width="0.99"/>
<line x1="132.8" y1="204.6" x2="137.6" y2="204.6" stroke="#8a8cc4" stroke-width="0.99"/>
<line x1="130.4" y1="194.5" x2="140" y2="194.5" stroke="#8a8cc4" stroke-width="1.32"/>
<text x="135.4" y="214.1" font-size="8" text-anchor="middle" fill="#8a8cc4" stroke="#8a8cc4" stroke-width="0.2">*</text>
<circle cx="149.6" cy="161.5" r="1.5" fill="none" stroke="#333333" stroke-width="1"/>
<circle cx="149.6" cy="170.3" r="1.5" fill="none" stroke="#333333" stroke-width="1"/>
<circle cx="149.6" cy="183" r="1.5" fill="none" stroke="#333333" stroke-width="1"/>
<circle cx="146.1" cy="187.8" r="1.5" fill="none" stroke="#333333" stroke-width="1"/>
<circle cx="153.1" cy="187.8" r="1.5" fill="none" stroke="#333333" stroke-width="1"/>
<circle cx="149.6" cy="192.5" r="1.5" fill="none" stroke="#333333" stroke-width="1"/>
<circle cx="149.6" cy="205.3" r="1.5" fill="none" stroke="#333333" stroke-width="1"/>
<line x1="149.6" y1="175.7" x2="149.6" y2="198.5" stroke="#a3a4dc" stroke-width="0.99"/>
<line x1="147.2" y1="175.7" x2="152" y2="175.7" stroke="#a3a4dc" stroke-width="0.99"/>
<line x1="147.2" y1="198.5" x2="152" y2="198.5" stroke="#a3a4dc" stroke-width="0.99"/>
<line x1="144.8" y1="183.7" x2="154.4" y2="183.7" stroke="#a3a4dc" stroke-width="1.32"/>
<circle cx="162" cy="165.6" r="1.5" fill="none" stroke="#333333" stroke-width="1"/>
<circle cx="166" cy="165.6" r="1.5" fill="none" stroke="#333333" stroke-width="1"/>
<circle cx="164" cy="172.3" r="1.5" fill="none" stroke="#333333" stroke-width="1"/>
<circle cx="161" cy="175.7" r="1.5" fill="none" stroke="#333333" stroke-width="1"/>
<circle cx="164" cy="175.7" r="1.5" fill="none" stroke="#333333" stroke-width="1"/>
<circle cx="167" cy="175.7" r="1.5" fill="none" stroke="#333333" stroke-width="1"/>
<circle cx="160.5" cy="179" r="1.5" fill="none" stroke="#333333" stroke-width="1"/>
<circle cx="167.5" cy="179" r="1.5" fill="none" stroke="#333333" stroke-width="1"/>
<circle cx="164" cy="183" r="1.5" fill="none" stroke="#333333" stroke-width="1"/>
<circle cx="164" cy="187.8" r="1.5" fill="none" stroke="#333333" stroke-width="1"/>
<line x1="164" y1="169" x2="164" y2="181.7" stroke="#c0203e" stroke-width="0.99"/>
<line x1="161.6" y1="169" x2="166.4" y2="169" stroke="#c0203e" stroke-width="0.99"/>
<line x1="161.6" y1="181.7" x2="166.4" y2="181.7" stroke="#c0203e" stroke-width="0.99"/>
<line x1="159.2" y1="176" x2="168.8" y2="176" stroke="#c0203e" stroke-width="1.32"/>
<circle cx="178.4" cy="183" r="1.5" fill="none" stroke="#333333" stroke-width="1"/>
<circle cx="174.9" cy="191.8" r="1.5" fill="none" stroke="#333333" stroke-width="1"/>
<circle cx="181.9" cy="191.8" r="1.5" fill="none" stroke="#333333" stroke-width="1"/>
<circle cx="174.9" cy="196.5" r="1.5" fill="none" stroke="#333333" stroke-width="1"/>
<circle cx="181.9" cy="196.5" r="1.5" fill="none" stroke="#333333" stroke-width="1"/>
<line x1="178.4" y1="186.4" x2="178.4" y2="197.9" stroke="#f2a22a" stroke-width="0.99"/>
<line x1="176" y1="186.4" x2="180.8" y2="186.4" stroke="#f2a22a" stroke-width="0.99"/>
<line x1="176" y1="197.9" x2="180.8" y2="197.9" stroke="#f2a22a" stroke-width="0.99"/>
<line x1="173.6" y1="192.5" x2="183.2" y2="192.5" stroke="#f2a22a" stroke-width="1.32"/>
<text x="178.7" y="207" font-size="9.8" text-anchor="middle" fill="#f2a22a" stroke="#f2a22a" stroke-width="0.2">**</text>
<circle cx="199.3" cy="161.2" r="1.5" fill="none" stroke="#333333" stroke-width="1"/>
<circle cx="202.3" cy="161.2" r="1.5" fill="none" stroke="#333333" stroke-width="1"/>
<circle cx="205.3" cy="161.2" r="1.5" fill="none" stroke="#333333" stroke-width="1"/>
<circle cx="202.3" cy="163" r="1.5" fill="none" stroke="#333333" stroke-width="1"/>
<circle cx="202.3" cy="166.2" r="1.5" fill="none" stroke="#333333" stroke-width="1"/>
<circle cx="199.3" cy="170" r="1.5" fill="none" stroke="#333333" stroke-width="1"/>
<circle cx="202.3" cy="170" r="1.5" fill="none" stroke="#333333" stroke-width="1"/>
<circle cx="205.3" cy="170" r="1.5" fill="none" stroke="#333333" stroke-width="1"/>
<circle cx="202.3" cy="172.3" r="1.5" fill="none" stroke="#333333" stroke-width="1"/>
<circle cx="199.8" cy="174.6" r="1.5" fill="none" stroke="#333333" stroke-width="1"/>
<circle cx="204.8" cy="174.6" r="1.5" fill="none" stroke="#333333" stroke-width="1"/>
<circle cx="202.3" cy="177" r="1.5" fill="none" stroke="#333333" stroke-width="1"/>
<circle cx="200.3" cy="179.2" r="1.5" fill="none" stroke="#333333" stroke-width="1"/>
<circle cx="204.3" cy="179.2" r="1.5" fill="none" stroke="#333333" stroke-width="1"/>
<circle cx="202.3" cy="183.4" r="1.5" fill="none" stroke="#333333" stroke-width="1"/>
<line x1="202.3" y1="161.5" x2="202.3" y2="177" stroke="#1e1e1e" stroke-width="0.99"/>
<line x1="199.9" y1="161.5" x2="204.7" y2="161.5" stroke="#1e1e1e" stroke-width="0.99"/>
<line x1="199.9" y1="177" x2="204.7" y2="177" stroke="#1e1e1e" stroke-width="0.99"/>
<line x1="197.5" y1="170" x2="207.1" y2="170" stroke="#1e1e1e" stroke-width="1.32"/>
<circle cx="216.66" cy="161.5" r="1.5" fill="none" stroke="#333333" stroke-width="1"/>
<circle cx="213.16" cy="174.6" r="1.5" fill="none" stroke="#333333" stroke-width="1"/>
<circle cx="220.16" cy="174.6" r="1.5" fill="none" stroke="#333333" stroke-width="1"/>
<circle cx="216.66" cy="178.5" r="1.5" fill="none" stroke="#333333" stroke-width="1"/>
<circle cx="216.66" cy="184.6" r="1.5" fill="none" stroke="#333333" stroke-width="1"/>
<circle cx="216.66" cy="188" r="1.5" fill="none" stroke="#333333" stroke-width="1"/>
<line x1="216.66" y1="166" x2="216.66" y2="184.6" stroke="#2b5886" stroke-width="0.99"/>
<line x1="214.26" y1="166" x2="219.06" y2="166" stroke="#2b5886" stroke-width="0.99"/>
<line x1="214.26" y1="184.6" x2="219.06" y2="184.6" stroke="#2b5886" stroke-width="0.99"/>
<line x1="211.86" y1="174.6" x2="221.46" y2="174.6" stroke="#2b5886" stroke-width="1.32"/>
<circle cx="231.02" cy="165.8" r="1.5" fill="none" stroke="#333333" stroke-width="1"/>
<circle cx="231.02" cy="170" r="1.5" fill="none" stroke="#333333" stroke-width="1"/>
<circle cx="227.52" cy="183.4" r="1.5" fill="none" stroke="#333333" stroke-width="1"/>
<circle cx="234.52" cy="183.4" r="1.5" fill="none" stroke="#333333" stroke-width="1"/>
<circle cx="231.02" cy="187.7" r="1.5" fill="none" stroke="#333333" stroke-width="1"/>
<line x1="231.02" y1="170" x2="231.02" y2="186" stroke="#2b5886" stroke-width="0.99"/>
<line x1="228.62" y1="170" x2="233.42" y2="170" stroke="#2b5886" stroke-width="0.99"/>
<line x1="228.62" y1="186" x2="233.42" y2="186" stroke="#2b5886" stroke-width="0.99"/>
<line x1="226.22" y1="178.2" x2="235.82" y2="178.2" stroke="#2b5886" stroke-width="1.32"/>
<circle cx="245.38" cy="157" r="1.5" fill="none" stroke="#333333" stroke-width="1"/>
<circle cx="245.38" cy="165.4" r="1.5" fill="none" stroke="#333333" stroke-width="1"/>
<circle cx="241.88" cy="174.6" r="1.5" fill="none" stroke="#333333" stroke-width="1"/>
<circle cx="245.38" cy="176" r="1.5" fill="none" stroke="#333333" stroke-width="1"/>
<circle cx="248.88" cy="174.6" r="1.5" fill="none" stroke="#333333" stroke-width="1"/>
<line x1="245.38" y1="161.5" x2="245.38" y2="174.6" stroke="#2b5886" stroke-width="0.99"/>
<line x1="242.98" y1="161.5" x2="247.78" y2="161.5" stroke="#2b5886" stroke-width="0.99"/>
<line x1="242.98" y1="174.6" x2="247.78" y2="174.6" stroke="#2b5886" stroke-width="0.99"/>
<line x1="240.58" y1="169.5" x2="250.18" y2="169.5" stroke="#2b5886" stroke-width="1.32"/>
<circle cx="256.24" cy="170" r="1.5" fill="none" stroke="#333333" stroke-width="1"/>
<circle cx="263.24" cy="170" r="1.5" fill="none" stroke="#333333" stroke-width="1"/>
<circle cx="259.74" cy="174.6" r="1.5" fill="none" stroke="#333333" stroke-width="1"/>
<circle cx="256.24" cy="178.5" r="1.5" fill="none" stroke="#333333" stroke-width="1"/>
<circle cx="263.24" cy="178.5" r="1.5" fill="none" stroke="#333333" stroke-width="1"/>
<line x1="259.74" y1="170.8" x2="259.74" y2="177" stroke="#2b5886" stroke-width="0.99"/>
<line x1="257.34" y1="170.8" x2="262.14" y2="170.8" stroke="#2b5886" stroke-width="0.99"/>
<line x1="257.34" y1="177" x2="262.14" y2="177" stroke="#2b5886" stroke-width="0.99"/>
<line x1="254.94" y1="174.6" x2="264.54" y2="174.6" stroke="#2b5886" stroke-width="1.32"/>
<circle cx="274.1" cy="161.2" r="1.5" fill="none" stroke="#333333" stroke-width="1"/>
<circle cx="274.1" cy="165.4" r="1.5" fill="none" stroke="#333333" stroke-width="1"/>
<circle cx="270.5" cy="183.4" r="1.5" fill="none" stroke="#333333" stroke-width="1"/>
<circle cx="274.1" cy="183.4" r="1.5" fill="none" stroke="#333333" stroke-width="1"/>
<circle cx="277.7" cy="183.4" r="1.5" fill="none" stroke="#333333" stroke-width="1"/>
<line x1="274.1" y1="165.4" x2="274.1" y2="185.4" stroke="#8a8cc4" stroke-width="0.99"/>
<line x1="271.7" y1="165.4" x2="276.5" y2="165.4" stroke="#8a8cc4" stroke-width="0.99"/>
<line x1="271.7" y1="185.4" x2="276.5" y2="185.4" stroke="#8a8cc4" stroke-width="0.99"/>
<line x1="269.3" y1="175.4" x2="278.9" y2="175.4" stroke="#8a8cc4" stroke-width="1.32"/>
<circle cx="288.46" cy="174.2" r="1.5" fill="none" stroke="#333333" stroke-width="1"/>
<circle cx="288.46" cy="178.5" r="1.5" fill="none" stroke="#333333" stroke-width="1"/>
<circle cx="284.96" cy="192.3" r="1.5" fill="none" stroke="#333333" stroke-width="1"/>
<circle cx="291.96" cy="192.3" r="1.5" fill="none" stroke="#333333" stroke-width="1"/>
<line x1="288.46" y1="174.6" x2="288.46" y2="192.3" stroke="#a3a4dc" stroke-width="0.99"/>
<line x1="286.06" y1="174.6" x2="290.86" y2="174.6" stroke="#a3a4dc" stroke-width="0.99"/>
<line x1="286.06" y1="192.3" x2="290.86" y2="192.3" stroke="#a3a4dc" stroke-width="0.99"/>
<line x1="283.66" y1="184.6" x2="293.26" y2="184.6" stroke="#a3a4dc" stroke-width="1.32"/>
<circle cx="302.82" cy="170" r="1.5" fill="none" stroke="#333333" stroke-width="1"/>
<circle cx="302.82" cy="178.5" r="1.5" fill="none" stroke="#333333" stroke-width="1"/>
<circle cx="299.32" cy="183" r="1.5" fill="none" stroke="#333333" stroke-width="1"/>
<circle cx="306.32" cy="183" r="1.5" fill="none" stroke="#333333" stroke-width="1"/>
<circle cx="302.82" cy="192.3" r="1.5" fill="none" stroke="#333333" stroke-width="1"/>
<line x1="302.82" y1="173.5" x2="302.82" y2="189.5" stroke="#c0203e" stroke-width="0.99"/>
<line x1="300.42" y1="173.5" x2="305.22" y2="173.5" stroke="#c0203e" stroke-width="0.99"/>
<line x1="300.42" y1="189.5" x2="305.22" y2="189.5" stroke="#c0203e" stroke-width="0.99"/>
<line x1="298.02" y1="180.8" x2="307.62" y2="180.8" stroke="#c0203e" stroke-width="1.32"/>
<circle cx="317.18" cy="157" r="1.5" fill="none" stroke="#333333" stroke-width="1"/>
<circle cx="317.18" cy="170" r="1.5" fill="none" stroke="#333333" stroke-width="1"/>
<circle cx="317.18" cy="174.2" r="1.5" fill="none" stroke="#333333" stroke-width="1"/>
<circle cx="317.18" cy="192.3" r="1.5" fill="none" stroke="#333333" stroke-width="1"/>
<circle cx="317.18" cy="196.2" r="1.5" fill="none" stroke="#333333" stroke-width="1"/>
<line x1="317.18" y1="161.5" x2="317.18" y2="196" stroke="#f2a22a" stroke-width="0.99"/>
<line x1="314.78" y1="161.5" x2="319.58" y2="161.5" stroke="#f2a22a" stroke-width="0.99"/>
<line x1="314.78" y1="196" x2="319.58" y2="196" stroke="#f2a22a" stroke-width="0.99"/>
<line x1="312.38" y1="177.7" x2="321.98" y2="177.7" stroke="#f2a22a" stroke-width="1.32"/>
<line x1="53.8" y1="249.4" x2="53.8" y2="350.9" stroke="#1e1e1e" stroke-width="1.2"/>
<line x1="53.3" y1="350.4" x2="328" y2="350.4" stroke="#1e1e1e" stroke-width="1.2"/>
<line x1="50.5" y1="251.9" x2="53.8" y2="251.9" stroke="#1e1e1e" stroke-width="1"/>
<text x="48.8" y="255.1" font-size="9" text-anchor="end" fill="#2a2a2a" stroke="#2a2a2a" stroke-width="0.2">70</text>
<line x1="50.5" y1="271.9" x2="53.8" y2="271.9" stroke="#1e1e1e" stroke-width="1"/>
<text x="48.8" y="275.1" font-size="9" text-anchor="end" fill="#2a2a2a" stroke="#2a2a2a" stroke-width="0.2">65</text>
<line x1="50.5" y1="291.7" x2="53.8" y2="291.7" stroke="#1e1e1e" stroke-width="1"/>
<text x="48.8" y="294.9" font-size="9" text-anchor="end" fill="#2a2a2a" stroke="#2a2a2a" stroke-width="0.2">60</text>
<line x1="50.5" y1="311.3" x2="53.8" y2="311.3" stroke="#1e1e1e" stroke-width="1"/>
<text x="48.8" y="314.5" font-size="9" text-anchor="end" fill="#2a2a2a" stroke="#2a2a2a" stroke-width="0.2">55</text>
<line x1="50.5" y1="331.2" x2="53.8" y2="331.2" stroke="#1e1e1e" stroke-width="1"/>
<text x="48.8" y="334.4" font-size="9" text-anchor="end" fill="#2a2a2a" stroke="#2a2a2a" stroke-width="0.2">50</text>
<line x1="50.5" y1="350.4" x2="53.8" y2="350.4" stroke="#1e1e1e" stroke-width="1"/>
<text x="48.8" y="353.6" font-size="9" text-anchor="end" fill="#2a2a2a" stroke="#2a2a2a" stroke-width="0.2">45</text>
<line x1="63.2" y1="350.4" x2="63.2" y2="353.4" stroke="#1e1e1e" stroke-width="1"/>
<line x1="77.6" y1="350.4" x2="77.6" y2="353.4" stroke="#1e1e1e" stroke-width="1"/>
<line x1="92" y1="350.4" x2="92" y2="353.4" stroke="#1e1e1e" stroke-width="1"/>
<line x1="106.4" y1="350.4" x2="106.4" y2="353.4" stroke="#1e1e1e" stroke-width="1"/>
<line x1="120.8" y1="350.4" x2="120.8" y2="353.4" stroke="#1e1e1e" stroke-width="1"/>
<line x1="135.2" y1="350.4" x2="135.2" y2="353.4" stroke="#1e1e1e" stroke-width="1"/>
<line x1="149.6" y1="350.4" x2="149.6" y2="353.4" stroke="#1e1e1e" stroke-width="1"/>
<line x1="164" y1="350.4" x2="164" y2="353.4" stroke="#1e1e1e" stroke-width="1"/>
<line x1="178.4" y1="350.4" x2="178.4" y2="353.4" stroke="#1e1e1e" stroke-width="1"/>
<line x1="202.3" y1="350.4" x2="202.3" y2="353.4" stroke="#1e1e1e" stroke-width="1"/>
<line x1="216.66" y1="350.4" x2="216.66" y2="353.4" stroke="#1e1e1e" stroke-width="1"/>
<line x1="231.02" y1="350.4" x2="231.02" y2="353.4" stroke="#1e1e1e" stroke-width="1"/>
<line x1="245.38" y1="350.4" x2="245.38" y2="353.4" stroke="#1e1e1e" stroke-width="1"/>
<line x1="259.74" y1="350.4" x2="259.74" y2="353.4" stroke="#1e1e1e" stroke-width="1"/>
<line x1="274.1" y1="350.4" x2="274.1" y2="353.4" stroke="#1e1e1e" stroke-width="1"/>
<line x1="288.46" y1="350.4" x2="288.46" y2="353.4" stroke="#1e1e1e" stroke-width="1"/>
<line x1="302.82" y1="350.4" x2="302.82" y2="353.4" stroke="#1e1e1e" stroke-width="1"/>
<line x1="317.18" y1="350.4" x2="317.18" y2="353.4" stroke="#1e1e1e" stroke-width="1"/>
<line x1="190.1" y1="250.4" x2="190.1" y2="350.4" stroke="#3a3a3a" stroke-width="0.9" stroke-dasharray="0.9 1.2"/>
<text transform="translate(31.81 299.4) rotate(-90)" font-size="8.6" text-anchor="middle" fill="#2a2a2a" textLength="29.6" lengthAdjust="spacingAndGlyphs" stroke="#2a2a2a" stroke-width="0.2">MCV (fL)</text>
<line x1="54.5" y1="296.5" x2="189" y2="296.5" stroke="#1e1e1e" stroke-width="1.3" stroke-dasharray="2.1 2.5"/>
<line x1="192" y1="302.7" x2="326" y2="302.7" stroke="#1e1e1e" stroke-width="1.3" stroke-dasharray="2.1 2.5"/>
<circle cx="63.2" cy="268.8" r="1.5" fill="none" stroke="#333333" stroke-width="1"/>
<circle cx="63.2" cy="284.2" r="1.5" fill="none" stroke="#333333" stroke-width="1"/>
<circle cx="63.2" cy="286.6" r="1.5" fill="none" stroke="#333333" stroke-width="1"/>
<circle cx="61" cy="288.5" r="1.5" fill="none" stroke="#333333" stroke-width="1"/>
<circle cx="65.4" cy="288.5" r="1.5" fill="none" stroke="#333333" stroke-width="1"/>
<circle cx="63.2" cy="290.1" r="1.5" fill="none" stroke="#333333" stroke-width="1"/>
<circle cx="60.2" cy="291.7" r="1.5" fill="none" stroke="#333333" stroke-width="1"/>
<circle cx="64" cy="291.7" r="1.5" fill="none" stroke="#333333" stroke-width="1"/>
<circle cx="66.2" cy="291.7" r="1.5" fill="none" stroke="#333333" stroke-width="1"/>
<circle cx="62.2" cy="293.3" r="1.5" fill="none" stroke="#333333" stroke-width="1"/>
<circle cx="64.7" cy="293.3" r="1.5" fill="none" stroke="#333333" stroke-width="1"/>
<circle cx="61" cy="294.9" r="1.5" fill="none" stroke="#333333" stroke-width="1"/>
<circle cx="65.4" cy="294.9" r="1.5" fill="none" stroke="#333333" stroke-width="1"/>
<circle cx="63.2" cy="296.5" r="1.5" fill="none" stroke="#333333" stroke-width="1"/>
<circle cx="60.2" cy="298.1" r="1.5" fill="none" stroke="#333333" stroke-width="1"/>
<circle cx="64" cy="298.1" r="1.5" fill="none" stroke="#333333" stroke-width="1"/>
<circle cx="66.2" cy="298.1" r="1.5" fill="none" stroke="#333333" stroke-width="1"/>
<circle cx="62.2" cy="299.7" r="1.5" fill="none" stroke="#333333" stroke-width="1"/>
<circle cx="64.7" cy="299.7" r="1.5" fill="none" stroke="#333333" stroke-width="1"/>
<circle cx="61" cy="301.3" r="1.5" fill="none" stroke="#333333" stroke-width="1"/>
<circle cx="65.4" cy="301.3" r="1.5" fill="none" stroke="#333333" stroke-width="1"/>
<circle cx="63.2" cy="302.9" r="1.5" fill="none" stroke="#333333" stroke-width="1"/>
<circle cx="60.2" cy="304.5" r="1.5" fill="none" stroke="#333333" stroke-width="1"/>
<circle cx="64" cy="304.5" r="1.5" fill="none" stroke="#333333" stroke-width="1"/>
<circle cx="66.2" cy="304.5" r="1.5" fill="none" stroke="#333333" stroke-width="1"/>
<circle cx="63.2" cy="308.4" r="1.5" fill="none" stroke="#333333" stroke-width="1"/>
<circle cx="63.2" cy="323.5" r="1.5" fill="none" stroke="#333333" stroke-width="1"/>
<line x1="63.2" y1="288" x2="63.2" y2="305.3" stroke="#1e1e1e" stroke-width="0.99"/>
<line x1="60.8" y1="288" x2="65.6" y2="288" stroke="#1e1e1e" stroke-width="0.99"/>
<line x1="60.8" y1="305.3" x2="65.6" y2="305.3" stroke="#1e1e1e" stroke-width="0.99"/>
<line x1="58.4" y1="296.5" x2="68" y2="296.5" stroke="#1e1e1e" stroke-width="1.32"/>
<circle cx="77.6" cy="288.5" r="1.5" fill="none" stroke="#333333" stroke-width="1"/>
<circle cx="74.1" cy="292.7" r="1.5" fill="none" stroke="#333333" stroke-width="1"/>
<circle cx="81.1" cy="292.7" r="1.5" fill="none" stroke="#333333" stroke-width="1"/>
<circle cx="77.6" cy="295.8" r="1.5" fill="none" stroke="#333333" stroke-width="1"/>
<circle cx="77.6" cy="299.6" r="1.5" fill="none" stroke="#333333" stroke-width="1"/>
<circle cx="74.1" cy="303.5" r="1.5" fill="none" stroke="#333333" stroke-width="1"/>
<circle cx="81.1" cy="303.5" r="1.5" fill="none" stroke="#333333" stroke-width="1"/>
<line x1="77.6" y1="292.7" x2="77.6" y2="301" stroke="#2b5886" stroke-width="0.99"/>
<line x1="75.2" y1="292.7" x2="80" y2="292.7" stroke="#2b5886" stroke-width="0.99"/>
<line x1="75.2" y1="301" x2="80" y2="301" stroke="#2b5886" stroke-width="0.99"/>
<line x1="72.8" y1="296.5" x2="82.4" y2="296.5" stroke="#2b5886" stroke-width="1.32"/>
<circle cx="88.4" cy="305" r="1.5" fill="none" stroke="#333333" stroke-width="1"/>
<circle cx="92" cy="305" r="1.5" fill="none" stroke="#333333" stroke-width="1"/>
<circle cx="95.6" cy="305" r="1.5" fill="none" stroke="#333333" stroke-width="1"/>
<circle cx="89.5" cy="307.3" r="1.5" fill="none" stroke="#333333" stroke-width="1"/>
<circle cx="94.5" cy="307.3" r="1.5" fill="none" stroke="#333333" stroke-width="1"/>
<circle cx="92" cy="309.6" r="1.5" fill="none" stroke="#333333" stroke-width="1"/>
<circle cx="92" cy="318.8" r="1.5" fill="none" stroke="#333333" stroke-width="1"/>
<line x1="92" y1="305" x2="92" y2="313.5" stroke="#2b5886" stroke-width="0.99"/>
<line x1="89.6" y1="305" x2="94.4" y2="305" stroke="#2b5886" stroke-width="0.99"/>
<line x1="89.6" y1="313.5" x2="94.4" y2="313.5" stroke="#2b5886" stroke-width="0.99"/>
<line x1="87.2" y1="308" x2="96.8" y2="308" stroke="#2b5886" stroke-width="1.32"/>
<text x="92.3" y="330.4" font-size="9.8" text-anchor="middle" fill="#3d6fa8" stroke="#3d6fa8" stroke-width="0.2">***</text>
<circle cx="106.4" cy="305.8" r="1.5" fill="none" stroke="#333333" stroke-width="1"/>
<circle cx="108.9" cy="309.6" r="1.5" fill="none" stroke="#333333" stroke-width="1"/>
<circle cx="102.9" cy="312.7" r="1.5" fill="none" stroke="#333333" stroke-width="1"/>
<circle cx="106.4" cy="312.7" r="1.5" fill="none" stroke="#333333" stroke-width="1"/>
<circle cx="109.9" cy="312.7" r="1.5" fill="none" stroke="#333333" stroke-width="1"/>
<circle cx="106.4" cy="315.8" r="1.5" fill="none" stroke="#333333" stroke-width="1"/>
<circle cx="106.4" cy="325" r="1.5" fill="none" stroke="#333333" stroke-width="1"/>
<line x1="106.4" y1="307.3" x2="106.4" y2="318" stroke="#2b5886" stroke-width="0.99"/>
<line x1="104" y1="307.3" x2="108.8" y2="307.3" stroke="#2b5886" stroke-width="0.99"/>
<line x1="104" y1="318" x2="108.8" y2="318" stroke="#2b5886" stroke-width="0.99"/>
<line x1="101.6" y1="313.2" x2="111.2" y2="313.2" stroke="#2b5886" stroke-width="1.32"/>
<text x="106.7" y="335.4" font-size="9.8" text-anchor="middle" fill="#3d6fa8" stroke="#3d6fa8" stroke-width="0.2">***</text>
<circle cx="117.8" cy="302.7" r="1.5" fill="none" stroke="#333333" stroke-width="1"/>
<circle cx="120.8" cy="304.2" r="1.5" fill="none" stroke="#333333" stroke-width="1"/>
<circle cx="120.8" cy="308.8" r="1.5" fill="none" stroke="#333333" stroke-width="1"/>
<circle cx="117.8" cy="312" r="1.5" fill="none" stroke="#333333" stroke-width="1"/>
<circle cx="123.8" cy="312" r="1.5" fill="none" stroke="#333333" stroke-width="1"/>
<circle cx="120.8" cy="314.2" r="1.5" fill="none" stroke="#333333" stroke-width="1"/>
<circle cx="123.8" cy="315.8" r="1.5" fill="none" stroke="#333333" stroke-width="1"/>
<circle cx="117.8" cy="317.3" r="1.5" fill="none" stroke="#333333" stroke-width="1"/>
<line x1="120.8" y1="308" x2="120.8" y2="315.8" stroke="#2b5886" stroke-width="0.99"/>
<line x1="118.4" y1="308" x2="123.2" y2="308" stroke="#2b5886" stroke-width="0.99"/>
<line x1="118.4" y1="315.8" x2="123.2" y2="315.8" stroke="#2b5886" stroke-width="0.99"/>
<line x1="116" y1="312" x2="125.6" y2="312" stroke="#2b5886" stroke-width="1.32"/>
<text x="121.1" y="327.9" font-size="9.8" text-anchor="middle" fill="#3d6fa8" stroke="#3d6fa8" stroke-width="0.2">***</text>
<circle cx="135.2" cy="290.7" r="1.5" fill="none" stroke="#333333" stroke-width="1"/>
<circle cx="131.7" cy="293" r="1.5" fill="none" stroke="#333333" stroke-width="1"/>
<circle cx="138.7" cy="293" r="1.5" fill="none" stroke="#333333" stroke-width="1"/>
<circle cx="135.2" cy="297.4" r="1.5" fill="none" stroke="#333333" stroke-width="1"/>
<circle cx="135.2" cy="302" r="1.5" fill="none" stroke="#333333" stroke-width="1"/>
<circle cx="135.2" cy="307.5" r="1.5" fill="none" stroke="#333333" stroke-width="1"/>
<circle cx="135.2" cy="323.6" r="1.5" fill="none" stroke="#333333" stroke-width="1"/>
<line x1="135.2" y1="294" x2="135.2" y2="312.2" stroke="#8a8cc4" stroke-width="0.99"/>
<line x1="132.8" y1="294" x2="137.6" y2="294" stroke="#8a8cc4" stroke-width="0.99"/>
<line x1="132.8" y1="312.2" x2="137.6" y2="312.2" stroke="#8a8cc4" stroke-width="0.99"/>
<line x1="130.4" y1="301.4" x2="140" y2="301.4" stroke="#8a8cc4" stroke-width="1.32"/>
<circle cx="146.1" cy="266.8" r="1.5" fill="none" stroke="#333333" stroke-width="1"/>
<circle cx="153.1" cy="269.1" r="1.5" fill="none" stroke="#333333" stroke-width="1"/>
<circle cx="149.6" cy="275.9" r="1.5" fill="none" stroke="#333333" stroke-width="1"/>
<circle cx="146.1" cy="279.9" r="1.5" fill="none" stroke="#333333" stroke-width="1"/>
<circle cx="153.1" cy="279.9" r="1.5" fill="none" stroke="#333333" stroke-width="1"/>
<circle cx="149.6" cy="284.6" r="1.5" fill="none" stroke="#333333" stroke-width="1"/>
<circle cx="149.6" cy="294" r="1.5" fill="none" stroke="#333333" stroke-width="1"/>
<line x1="149.6" y1="269" x2="149.6" y2="287.3" stroke="#a3a4dc" stroke-width="0.99"/>
<line x1="147.2" y1="269" x2="152" y2="269" stroke="#a3a4dc" stroke-width="0.99"/>
<line x1="147.2" y1="287.3" x2="152" y2="287.3" stroke="#a3a4dc" stroke-width="0.99"/>
<line x1="144.8" y1="277.2" x2="154.4" y2="277.2" stroke="#a3a4dc" stroke-width="1.32"/>
<text x="149.8" y="265.1" font-size="8" text-anchor="middle" fill="#a3a4dc" stroke="#a3a4dc" stroke-width="0.2">*</text>
<circle cx="164" cy="281.6" r="1.5" fill="none" stroke="#333333" stroke-width="1"/>
<circle cx="164" cy="287" r="1.5" fill="none" stroke="#333333" stroke-width="1"/>
<circle cx="160.5" cy="291.3" r="1.5" fill="none" stroke="#333333" stroke-width="1"/>
<circle cx="164" cy="291.3" r="1.5" fill="none" stroke="#333333" stroke-width="1"/>
<circle cx="167.5" cy="291.3" r="1.5" fill="none" stroke="#333333" stroke-width="1"/>
<circle cx="160.5" cy="294.5" r="1.5" fill="none" stroke="#333333" stroke-width="1"/>
<circle cx="167.5" cy="294.5" r="1.5" fill="none" stroke="#333333" stroke-width="1"/>
<circle cx="160.5" cy="297.5" r="1.5" fill="none" stroke="#333333" stroke-width="1"/>
<circle cx="164" cy="297.5" r="1.5" fill="none" stroke="#333333" stroke-width="1"/>
<circle cx="167.5" cy="297.5" r="1.5" fill="none" stroke="#333333" stroke-width="1"/>
<circle cx="164" cy="299.4" r="1.5" fill="none" stroke="#333333" stroke-width="1"/>
<line x1="164" y1="287.3" x2="164" y2="296.7" stroke="#c0203e" stroke-width="0.99"/>
<line x1="161.6" y1="287.3" x2="166.4" y2="287.3" stroke="#c0203e" stroke-width="0.99"/>
<line x1="161.6" y1="296.7" x2="166.4" y2="296.7" stroke="#c0203e" stroke-width="0.99"/>
<line x1="159.2" y1="294.7" x2="168.8" y2="294.7" stroke="#c0203e" stroke-width="1.32"/>
<circle cx="174.9" cy="302.8" r="1.5" fill="none" stroke="#333333" stroke-width="1"/>
<circle cx="181.9" cy="304.5" r="1.5" fill="none" stroke="#333333" stroke-width="1"/>
<circle cx="178.4" cy="309.5" r="1.5" fill="none" stroke="#333333" stroke-width="1"/>
<circle cx="181.9" cy="313.5" r="1.5" fill="none" stroke="#333333" stroke-width="1"/>
<circle cx="174.9" cy="316.2" r="1.5" fill="none" stroke="#333333" stroke-width="1"/>
<line x1="178.4" y1="304.8" x2="178.4" y2="314.2" stroke="#f2a22a" stroke-width="0.99"/>
<line x1="176" y1="304.8" x2="180.8" y2="304.8" stroke="#f2a22a" stroke-width="0.99"/>
<line x1="176" y1="314.2" x2="180.8" y2="314.2" stroke="#f2a22a" stroke-width="0.99"/>
<line x1="173.6" y1="309.5" x2="183.2" y2="309.5" stroke="#f2a22a" stroke-width="1.32"/>
<text x="178.6" y="324.4" font-size="8" text-anchor="middle" fill="#f2a22a" stroke="#f2a22a" stroke-width="0.2">*</text>
<circle cx="200.1" cy="296" r="1.5" fill="none" stroke="#333333" stroke-width="1"/>
<circle cx="204.5" cy="296" r="1.5" fill="none" stroke="#333333" stroke-width="1"/>
<circle cx="202.3" cy="297.5" r="1.5" fill="none" stroke="#333333" stroke-width="1"/>
<circle cx="199.1" cy="299" r="1.5" fill="none" stroke="#333333" stroke-width="1"/>
<circle cx="202.3" cy="299" r="1.5" fill="none" stroke="#333333" stroke-width="1"/>
<circle cx="205.5" cy="299" r="1.5" fill="none" stroke="#333333" stroke-width="1"/>
<circle cx="200.9" cy="300.5" r="1.5" fill="none" stroke="#333333" stroke-width="1"/>
<circle cx="203.9" cy="300.5" r="1.5" fill="none" stroke="#333333" stroke-width="1"/>
<circle cx="200.1" cy="302" r="1.5" fill="none" stroke="#333333" stroke-width="1"/>
<circle cx="204.5" cy="302" r="1.5" fill="none" stroke="#333333" stroke-width="1"/>
<circle cx="202.3" cy="303.5" r="1.5" fill="none" stroke="#333333" stroke-width="1"/>
<circle cx="199.1" cy="305" r="1.5" fill="none" stroke="#333333" stroke-width="1"/>
<circle cx="202.3" cy="305" r="1.5" fill="none" stroke="#333333" stroke-width="1"/>
<circle cx="205.5" cy="305" r="1.5" fill="none" stroke="#333333" stroke-width="1"/>
<circle cx="200.9" cy="306.5" r="1.5" fill="none" stroke="#333333" stroke-width="1"/>
<circle cx="203.9" cy="306.5" r="1.5" fill="none" stroke="#333333" stroke-width="1"/>
<circle cx="200.1" cy="308" r="1.5" fill="none" stroke="#333333" stroke-width="1"/>
<circle cx="204.5" cy="308" r="1.5" fill="none" stroke="#333333" stroke-width="1"/>
<circle cx="202.3" cy="309.5" r="1.5" fill="none" stroke="#333333" stroke-width="1"/>
<line x1="202.3" y1="298.5" x2="202.3" y2="307.5" stroke="#1e1e1e" stroke-width="0.99"/>
<line x1="199.9" y1="298.5" x2="204.7" y2="298.5" stroke="#1e1e1e" stroke-width="0.99"/>
<line x1="199.9" y1="307.5" x2="204.7" y2="307.5" stroke="#1e1e1e" stroke-width="0.99"/>
<line x1="197.5" y1="302.7" x2="207.1" y2="302.7" stroke="#1e1e1e" stroke-width="1.32"/>
<circle cx="216.66" cy="300.4" r="1.5" fill="none" stroke="#333333" stroke-width="1"/>
<circle cx="216.66" cy="302.7" r="1.5" fill="none" stroke="#333333" stroke-width="1"/>
<circle cx="213.16" cy="306.5" r="1.5" fill="none" stroke="#333333" stroke-width="1"/>
<circle cx="216.66" cy="306.5" r="1.5" fill="none" stroke="#333333" stroke-width="1"/>
<circle cx="220.16" cy="306.5" r="1.5" fill="none" stroke="#333333" stroke-width="1"/>
<circle cx="216.66" cy="308" r="1.5" fill="none" stroke="#333333" stroke-width="1"/>
<circle cx="213.66" cy="310.4" r="1.5" fill="none" stroke="#333333" stroke-width="1"/>
<line x1="216.66" y1="302" x2="216.66" y2="308" stroke="#2b5886" stroke-width="0.99"/>
<line x1="214.26" y1="302" x2="219.06" y2="302" stroke="#2b5886" stroke-width="0.99"/>
<line x1="214.26" y1="308" x2="219.06" y2="308" stroke="#2b5886" stroke-width="0.99"/>
<line x1="211.86" y1="305.8" x2="221.46" y2="305.8" stroke="#2b5886" stroke-width="1.32"/>
<circle cx="231.02" cy="314.2" r="1.5" fill="none" stroke="#333333" stroke-width="1"/>
<circle cx="231.02" cy="317.3" r="1.5" fill="none" stroke="#333333" stroke-width="1"/>
<circle cx="231.02" cy="320.4" r="1.5" fill="none" stroke="#333333" stroke-width="1"/>
<circle cx="231.02" cy="322.7" r="1.5" fill="none" stroke="#333333" stroke-width="1"/>
<circle cx="231.02" cy="326.5" r="1.5" fill="none" stroke="#333333" stroke-width="1"/>
<circle cx="231.02" cy="330.4" r="1.5" fill="none" stroke="#333333" stroke-width="1"/>
<line x1="231.02" y1="317.3" x2="231.02" y2="327.3" stroke="#2b5886" stroke-width="0.99"/>
<line x1="228.62" y1="317.3" x2="233.42" y2="317.3" stroke="#2b5886" stroke-width="0.99"/>
<line x1="228.62" y1="327.3" x2="233.42" y2="327.3" stroke="#2b5886" stroke-width="0.99"/>
<line x1="226.22" y1="322.4" x2="235.82" y2="322.4" stroke="#2b5886" stroke-width="1.32"/>
<text x="231.22" y="338.8" font-size="8" text-anchor="middle" fill="#3d6fa8" stroke="#3d6fa8" stroke-width="0.2">*</text>
<circle cx="245.38" cy="316.2" r="1.5" fill="none" stroke="#333333" stroke-width="1"/>
<circle cx="241.88" cy="320.4" r="1.5" fill="none" stroke="#333333" stroke-width="1"/>
<circle cx="248.88" cy="320.4" r="1.5" fill="none" stroke="#333333" stroke-width="1"/>
<circle cx="245.38" cy="321.5" r="1.5" fill="none" stroke="#333333" stroke-width="1"/>
<circle cx="245.38" cy="326.5" r="1.5" fill="none" stroke="#333333" stroke-width="1"/>
<line x1="245.38" y1="318" x2="245.38" y2="325" stroke="#2b5886" stroke-width="0.99"/>
<line x1="242.98" y1="318" x2="247.78" y2="318" stroke="#2b5886" stroke-width="0.99"/>
<line x1="242.98" y1="325" x2="247.78" y2="325" stroke="#2b5886" stroke-width="0.99"/>
<line x1="240.58" y1="321.5" x2="250.18" y2="321.5" stroke="#2b5886" stroke-width="1.32"/>
<text x="245.68" y="342.4" font-size="9.8" text-anchor="middle" fill="#3d6fa8" stroke="#3d6fa8" stroke-width="0.2">***</text>
<circle cx="256.24" cy="318.4" r="1.5" fill="none" stroke="#333333" stroke-width="1"/>
<circle cx="259.74" cy="318.4" r="1.5" fill="none" stroke="#333333" stroke-width="1"/>
<circle cx="263.24" cy="318.4" r="1.5" fill="none" stroke="#333333" stroke-width="1"/>
<circle cx="259.74" cy="319.6" r="1.5" fill="none" stroke="#333333" stroke-width="1"/>
<circle cx="259.74" cy="322.7" r="1.5" fill="none" stroke="#333333" stroke-width="1"/>
<circle cx="259.74" cy="327" r="1.5" fill="none" stroke="#333333" stroke-width="1"/>
<line x1="259.74" y1="318.4" x2="259.74" y2="323.5" stroke="#2b5886" stroke-width="0.99"/>
<line x1="257.34" y1="318.4" x2="262.14" y2="318.4" stroke="#2b5886" stroke-width="0.99"/>
<line x1="257.34" y1="323.5" x2="262.14" y2="323.5" stroke="#2b5886" stroke-width="0.99"/>
<line x1="254.94" y1="320.8" x2="264.54" y2="320.8" stroke="#2b5886" stroke-width="1.32"/>
<text x="260.04" y="335.4" font-size="9.8" text-anchor="middle" fill="#3d6fa8" stroke="#3d6fa8" stroke-width="0.2">***</text>
<circle cx="270.5" cy="290.7" r="1.5" fill="none" stroke="#333333" stroke-width="1"/>
<circle cx="274.1" cy="290.7" r="1.5" fill="none" stroke="#333333" stroke-width="1"/>
<circle cx="277.7" cy="290.7" r="1.5" fill="none" stroke="#333333" stroke-width="1"/>
<circle cx="274.1" cy="292.2" r="1.5" fill="none" stroke="#333333" stroke-width="1"/>
<circle cx="274.1" cy="296.5" r="1.5" fill="none" stroke="#333333" stroke-width="1"/>
<circle cx="274.1" cy="305.8" r="1.5" fill="none" stroke="#333333" stroke-width="1"/>
<line x1="274.1" y1="292.7" x2="274.1" y2="298" stroke="#8a8cc4" stroke-width="0.99"/>
<line x1="271.7" y1="292.7" x2="276.5" y2="292.7" stroke="#8a8cc4" stroke-width="0.99"/>
<line x1="271.7" y1="298" x2="276.5" y2="298" stroke="#8a8cc4" stroke-width="0.99"/>
<line x1="269.3" y1="295.3" x2="278.9" y2="295.3" stroke="#8a8cc4" stroke-width="1.32"/>
<circle cx="288.46" cy="284" r="1.5" fill="none" stroke="#333333" stroke-width="1"/>
<circle cx="284.96" cy="287.3" r="1.5" fill="none" stroke="#333333" stroke-width="1"/>
<circle cx="291.96" cy="287.3" r="1.5" fill="none" stroke="#333333" stroke-width="1"/>
<circle cx="288.46" cy="289.2" r="1.5" fill="none" stroke="#333333" stroke-width="1"/>
<circle cx="284.96" cy="291.2" r="1.5" fill="none" stroke="#333333" stroke-width="1"/>
<line x1="288.46" y1="285" x2="288.46" y2="291" stroke="#a3a4dc" stroke-width="0.99"/>
<line x1="286.06" y1="285" x2="290.86" y2="285" stroke="#a3a4dc" stroke-width="0.99"/>
<line x1="286.06" y1="291" x2="290.86" y2="291" stroke="#a3a4dc" stroke-width="0.99"/>
<line x1="283.66" y1="288" x2="293.26" y2="288" stroke="#a3a4dc" stroke-width="1.32"/>
<text x="288.76" y="281.7" font-size="9.8" text-anchor="middle" fill="#a3a4dc" stroke="#a3a4dc" stroke-width="0.2">**</text>
<circle cx="299.32" cy="288.8" r="1.5" fill="none" stroke="#333333" stroke-width="1"/>
<circle cx="302.82" cy="292" r="1.5" fill="none" stroke="#333333" stroke-width="1"/>
<circle cx="306.32" cy="292" r="1.5" fill="none" stroke="#333333" stroke-width="1"/>
<circle cx="299.82" cy="294.2" r="1.5" fill="none" stroke="#333333" stroke-width="1"/>
<circle cx="306.32" cy="294.2" r="1.5" fill="none" stroke="#333333" stroke-width="1"/>
<circle cx="299.32" cy="295.8" r="1.5" fill="none" stroke="#333333" stroke-width="1"/>
<line x1="302.82" y1="290" x2="302.82" y2="295" stroke="#c0203e" stroke-width="0.99"/>
<line x1="300.42" y1="290" x2="305.22" y2="290" stroke="#c0203e" stroke-width="0.99"/>
<line x1="300.42" y1="295" x2="305.22" y2="295" stroke="#c0203e" stroke-width="0.99"/>
<line x1="298.02" y1="292.7" x2="307.62" y2="292.7" stroke="#c0203e" stroke-width="1.32"/>
<text x="303.12" y="286.8" font-size="9.8" text-anchor="middle" fill="#c0203e" stroke="#c0203e" stroke-width="0.2">**</text>
<circle cx="317.18" cy="306.5" r="1.5" fill="none" stroke="#333333" stroke-width="1"/>
<circle cx="313.68" cy="312.7" r="1.5" fill="none" stroke="#333333" stroke-width="1"/>
<circle cx="320.68" cy="312.7" r="1.5" fill="none" stroke="#333333" stroke-width="1"/>
<circle cx="317.18" cy="317.3" r="1.5" fill="none" stroke="#333333" stroke-width="1"/>
<circle cx="317.18" cy="322" r="1.5" fill="none" stroke="#333333" stroke-width="1"/>
<line x1="317.18" y1="308" x2="317.18" y2="318" stroke="#f2a22a" stroke-width="0.99"/>
<line x1="314.78" y1="308" x2="319.58" y2="308" stroke="#f2a22a" stroke-width="0.99"/>
<line x1="314.78" y1="318" x2="319.58" y2="318" stroke="#f2a22a" stroke-width="0.99"/>
<line x1="312.38" y1="313.5" x2="321.98" y2="313.5" stroke="#f2a22a" stroke-width="1.32"/>
<line x1="53.8" y1="363.5" x2="53.8" y2="464.9" stroke="#1e1e1e" stroke-width="1.2"/>
<line x1="53.3" y1="464.4" x2="328" y2="464.4" stroke="#1e1e1e" stroke-width="1.2"/>
<line x1="50.5" y1="366.3" x2="53.8" y2="366.3" stroke="#1e1e1e" stroke-width="1"/>
<text x="48.8" y="369.5" font-size="9" text-anchor="end" fill="#2a2a2a" stroke="#2a2a2a" stroke-width="0.2">50</text>
<line x1="50.5" y1="391" x2="53.8" y2="391" stroke="#1e1e1e" stroke-width="1"/>
<text x="48.8" y="394.2" font-size="9" text-anchor="end" fill="#2a2a2a" stroke="#2a2a2a" stroke-width="0.2">40</text>
<line x1="50.5" y1="415.4" x2="53.8" y2="415.4" stroke="#1e1e1e" stroke-width="1"/>
<text x="48.8" y="418.6" font-size="9" text-anchor="end" fill="#2a2a2a" stroke="#2a2a2a" stroke-width="0.2">30</text>
<line x1="50.5" y1="440" x2="53.8" y2="440" stroke="#1e1e1e" stroke-width="1"/>
<text x="48.8" y="443.2" font-size="9" text-anchor="end" fill="#2a2a2a" stroke="#2a2a2a" stroke-width="0.2">20</text>
<line x1="50.5" y1="464.4" x2="53.8" y2="464.4" stroke="#1e1e1e" stroke-width="1"/>
<text x="48.8" y="467.6" font-size="9" text-anchor="end" fill="#2a2a2a" stroke="#2a2a2a" stroke-width="0.2">10</text>
<line x1="63.2" y1="464.4" x2="63.2" y2="467.4" stroke="#1e1e1e" stroke-width="1"/>
<line x1="77.6" y1="464.4" x2="77.6" y2="467.4" stroke="#1e1e1e" stroke-width="1"/>
<line x1="92" y1="464.4" x2="92" y2="467.4" stroke="#1e1e1e" stroke-width="1"/>
<line x1="106.4" y1="464.4" x2="106.4" y2="467.4" stroke="#1e1e1e" stroke-width="1"/>
<line x1="120.8" y1="464.4" x2="120.8" y2="467.4" stroke="#1e1e1e" stroke-width="1"/>
<line x1="135.2" y1="464.4" x2="135.2" y2="467.4" stroke="#1e1e1e" stroke-width="1"/>
<line x1="149.6" y1="464.4" x2="149.6" y2="467.4" stroke="#1e1e1e" stroke-width="1"/>
<line x1="164" y1="464.4" x2="164" y2="467.4" stroke="#1e1e1e" stroke-width="1"/>
<line x1="178.4" y1="464.4" x2="178.4" y2="467.4" stroke="#1e1e1e" stroke-width="1"/>
<line x1="202.3" y1="464.4" x2="202.3" y2="467.4" stroke="#1e1e1e" stroke-width="1"/>
<line x1="216.66" y1="464.4" x2="216.66" y2="467.4" stroke="#1e1e1e" stroke-width="1"/>
<line x1="231.02" y1="464.4" x2="231.02" y2="467.4" stroke="#1e1e1e" stroke-width="1"/>
<line x1="245.38" y1="464.4" x2="245.38" y2="467.4" stroke="#1e1e1e" stroke-width="1"/>
<line x1="259.74" y1="464.4" x2="259.74" y2="467.4" stroke="#1e1e1e" stroke-width="1"/>
<line x1="274.1" y1="464.4" x2="274.1" y2="467.4" stroke="#1e1e1e" stroke-width="1"/>
<line x1="288.46" y1="464.4" x2="288.46" y2="467.4" stroke="#1e1e1e" stroke-width="1"/>
<line x1="302.82" y1="464.4" x2="302.82" y2="467.4" stroke="#1e1e1e" stroke-width="1"/>
<line x1="317.18" y1="464.4" x2="317.18" y2="467.4" stroke="#1e1e1e" stroke-width="1"/>
<line x1="190.1" y1="364.5" x2="190.1" y2="464.4" stroke="#3a3a3a" stroke-width="0.9" stroke-dasharray="0.9 1.2"/>
<text transform="translate(31.81 413.3) rotate(-90)" font-size="8.6" text-anchor="middle" fill="#2a2a2a" textLength="42.6" lengthAdjust="spacingAndGlyphs" stroke="#2a2a2a" stroke-width="0.2">RDW (CV %)</text>
<line x1="54.5" y1="454.6" x2="189" y2="454.6" stroke="#1e1e1e" stroke-width="1.3" stroke-dasharray="2.1 2.5"/>
<line x1="192" y1="456.5" x2="326" y2="456.5" stroke="#1e1e1e" stroke-width="1.3" stroke-dasharray="2.1 2.5"/>
<circle cx="63.2" cy="446" r="1.5" fill="none" stroke="#333333" stroke-width="1"/>
<circle cx="63.2" cy="448.5" r="1.5" fill="none" stroke="#333333" stroke-width="1"/>
<circle cx="60.2" cy="451.5" r="1.5" fill="none" stroke="#333333" stroke-width="1"/>
<circle cx="66.2" cy="451.5" r="1.5" fill="none" stroke="#333333" stroke-width="1"/>
<circle cx="59.2" cy="454" r="1.5" fill="none" stroke="#333333" stroke-width="1"/>
<circle cx="63.2" cy="454" r="1.5" fill="none" stroke="#333333" stroke-width="1"/>
<circle cx="67.2" cy="454" r="1.5" fill="none" stroke="#333333" stroke-width="1"/>
<circle cx="60.2" cy="456.5" r="1.5" fill="none" stroke="#333333" stroke-width="1"/>
<circle cx="66.2" cy="456.5" r="1.5" fill="none" stroke="#333333" stroke-width="1"/>
<circle cx="59.2" cy="455" r="1.5" fill="none" stroke="#333333" stroke-width="1"/>
<circle cx="67.2" cy="456" r="1.5" fill="none" stroke="#333333" stroke-width="1"/>
<circle cx="63.2" cy="458.5" r="1.5" fill="none" stroke="#333333" stroke-width="1"/>
<circle cx="61.2" cy="457" r="1.5" fill="none" stroke="#333333" stroke-width="1"/>
<circle cx="65.2" cy="457.5" r="1.5" fill="none" stroke="#333333" stroke-width="1"/>
<line x1="58.4" y1="454.6" x2="68" y2="454.6" stroke="#1e1e1e" stroke-width="1.32"/>
<circle cx="74.1" cy="455" r="1.5" fill="none" stroke="#333333" stroke-width="1"/>
<circle cx="77.6" cy="454.6" r="1.5" fill="none" stroke="#333333" stroke-width="1"/>
<circle cx="81.1" cy="455" r="1.5" fill="none" stroke="#333333" stroke-width="1"/>
<circle cx="75.6" cy="457.5" r="1.5" fill="none" stroke="#333333" stroke-width="1"/>
<circle cx="79.6" cy="457.5" r="1.5" fill="none" stroke="#333333" stroke-width="1"/>
<circle cx="81.6" cy="458.5" r="1.5" fill="none" stroke="#333333" stroke-width="1"/>
<line x1="72.8" y1="456" x2="82.4" y2="456" stroke="#2b5886" stroke-width="1.32"/>
<circle cx="92" cy="440.8" r="1.5" fill="none" stroke="#333333" stroke-width="1"/>
<circle cx="92" cy="443.5" r="1.5" fill="none" stroke="#333333" stroke-width="1"/>
<circle cx="88.4" cy="445.4" r="1.5" fill="none" stroke="#333333" stroke-width="1"/>
<circle cx="92" cy="445.4" r="1.5" fill="none" stroke="#333333" stroke-width="1"/>
<circle cx="95.6" cy="445.4" r="1.5" fill="none" stroke="#333333" stroke-width="1"/>
<circle cx="92" cy="447.7" r="1.5" fill="none" stroke="#333333" stroke-width="1"/>
<circle cx="92" cy="450" r="1.5" fill="none" stroke="#333333" stroke-width="1"/>
<line x1="92" y1="443" x2="92" y2="448.5" stroke="#2b5886" stroke-width="0.99"/>
<line x1="89.6" y1="443" x2="94.4" y2="443" stroke="#2b5886" stroke-width="0.99"/>
<line x1="89.6" y1="448.5" x2="94.4" y2="448.5" stroke="#2b5886" stroke-width="0.99"/>
<line x1="87.2" y1="445.7" x2="96.8" y2="445.7" stroke="#2b5886" stroke-width="1.32"/>
<text x="92.3" y="437.8" font-size="9.8" text-anchor="middle" fill="#3d6fa8" stroke="#3d6fa8" stroke-width="0.2">***</text>
<circle cx="106.4" cy="443.8" r="1.5" fill="none" stroke="#333333" stroke-width="1"/>
<circle cx="102.8" cy="445.7" r="1.5" fill="none" stroke="#333333" stroke-width="1"/>
<circle cx="106.4" cy="445.7" r="1.5" fill="none" stroke="#333333" stroke-width="1"/>
<circle cx="110" cy="445.7" r="1.5" fill="none" stroke="#333333" stroke-width="1"/>
<circle cx="106.4" cy="447.7" r="1.5" fill="none" stroke="#333333" stroke-width="1"/>
<line x1="106.4" y1="444.5" x2="106.4" y2="447.5" stroke="#2b5886" stroke-width="0.99"/>
<line x1="104" y1="444.5" x2="108.8" y2="444.5" stroke="#2b5886" stroke-width="0.99"/>
<line x1="104" y1="447.5" x2="108.8" y2="447.5" stroke="#2b5886" stroke-width="0.99"/>
<line x1="101.6" y1="446.2" x2="111.2" y2="446.2" stroke="#2b5886" stroke-width="1.32"/>
<text x="106.7" y="442.4" font-size="9.8" text-anchor="middle" fill="#3d6fa8" stroke="#3d6fa8" stroke-width="0.2">****</text>
<circle cx="120.8" cy="447.7" r="1.5" fill="none" stroke="#333333" stroke-width="1"/>
<circle cx="120.8" cy="451.5" r="1.5" fill="none" stroke="#333333" stroke-width="1"/>
<circle cx="117.3" cy="453" r="1.5" fill="none" stroke="#333333" stroke-width="1"/>
<circle cx="120.8" cy="453" r="1.5" fill="none" stroke="#333333" stroke-width="1"/>
<circle cx="124.3" cy="453" r="1.5" fill="none" stroke="#333333" stroke-width="1"/>
<circle cx="120.8" cy="454.3" r="1.5" fill="none" stroke="#333333" stroke-width="1"/>
<line x1="120.8" y1="451.5" x2="120.8" y2="454.5" stroke="#2b5886" stroke-width="0.99"/>
<line x1="118.4" y1="451.5" x2="123.2" y2="451.5" stroke="#2b5886" stroke-width="0.99"/>
<line x1="118.4" y1="454.5" x2="123.2" y2="454.5" stroke="#2b5886" stroke-width="0.99"/>
<line x1="116" y1="453" x2="125.6" y2="453" stroke="#2b5886" stroke-width="1.32"/>
<circle cx="135.2" cy="386.3" r="1.5" fill="none" stroke="#333333" stroke-width="1"/>
<circle cx="131.7" cy="416.9" r="1.5" fill="none" stroke="#333333" stroke-width="1"/>
<circle cx="138.7" cy="416.9" r="1.5" fill="none" stroke="#333333" stroke-width="1"/>
<circle cx="131.7" cy="429.3" r="1.5" fill="none" stroke="#333333" stroke-width="1"/>
<circle cx="138.7" cy="429.3" r="1.5" fill="none" stroke="#333333" stroke-width="1"/>
<circle cx="131.7" cy="437.2" r="1.5" fill="none" stroke="#333333" stroke-width="1"/>
<circle cx="138.7" cy="437.2" r="1.5" fill="none" stroke="#333333" stroke-width="1"/>
<line x1="135.2" y1="403.8" x2="135.2" y2="439.6" stroke="#8a8cc4" stroke-width="0.99"/>
<line x1="132.8" y1="403.8" x2="137.6" y2="403.8" stroke="#8a8cc4" stroke-width="0.99"/>
<line x1="132.8" y1="439.6" x2="137.6" y2="439.6" stroke="#8a8cc4" stroke-width="0.99"/>
<line x1="130.4" y1="421.7" x2="140" y2="421.7" stroke="#8a8cc4" stroke-width="1.32"/>
<text x="135.4" y="380.7" font-size="8" text-anchor="middle" fill="#8a8cc4" stroke="#8a8cc4" stroke-width="0.2">*</text>
<circle cx="146.1" cy="456.5" r="1.5" fill="none" stroke="#333333" stroke-width="1"/>
<circle cx="149.6" cy="455.5" r="1.5" fill="none" stroke="#333333" stroke-width="1"/>
<circle cx="153.1" cy="456.5" r="1.5" fill="none" stroke="#333333" stroke-width="1"/>
<circle cx="147.6" cy="458.2" r="1.5" fill="none" stroke="#333333" stroke-width="1"/>
<circle cx="151.6" cy="458.2" r="1.5" fill="none" stroke="#333333" stroke-width="1"/>
<line x1="144.8" y1="456.8" x2="154.4" y2="456.8" stroke="#a3a4dc" stroke-width="1.32"/>
<circle cx="160.5" cy="455" r="1.5" fill="none" stroke="#333333" stroke-width="1"/>
<circle cx="164" cy="454" r="1.5" fill="none" stroke="#333333" stroke-width="1"/>
<circle cx="167.5" cy="455" r="1.5" fill="none" stroke="#333333" stroke-width="1"/>
<circle cx="162" cy="457" r="1.5" fill="none" stroke="#333333" stroke-width="1"/>
<circle cx="166" cy="457" r="1.5" fill="none" stroke="#333333" stroke-width="1"/>
<circle cx="164" cy="458" r="1.5" fill="none" stroke="#333333" stroke-width="1"/>
<line x1="159.2" y1="456" x2="168.8" y2="456" stroke="#c0203e" stroke-width="1.32"/>
<circle cx="178.4" cy="433.7" r="1.5" fill="none" stroke="#333333" stroke-width="1"/>
<circle cx="181.9" cy="436.8" r="1.5" fill="none" stroke="#333333" stroke-width="1"/>
<circle cx="174.9" cy="439.6" r="1.5" fill="none" stroke="#333333" stroke-width="1"/>
<circle cx="181.9" cy="439.6" r="1.5" fill="none" stroke="#333333" stroke-width="1"/>
<circle cx="178.4" cy="443" r="1.5" fill="none" stroke="#333333" stroke-width="1"/>
<line x1="178.4" y1="435" x2="178.4" y2="441" stroke="#f2a22a" stroke-width="0.99"/>
<line x1="176" y1="435" x2="180.8" y2="435" stroke="#f2a22a" stroke-width="0.99"/>
<line x1="176" y1="441" x2="180.8" y2="441" stroke="#f2a22a" stroke-width="0.99"/>
<line x1="173.6" y1="437.8" x2="183.2" y2="437.8" stroke="#f2a22a" stroke-width="1.32"/>
<text x="178.7" y="432" font-size="9.8" text-anchor="middle" fill="#f2a22a" stroke="#f2a22a" stroke-width="0.2">**</text>
<circle cx="199.3" cy="456.5" r="1.5" fill="none" stroke="#333333" stroke-width="1"/>
<circle cx="202.3" cy="456" r="1.5" fill="none" stroke="#333333" stroke-width="1"/>
<circle cx="205.3" cy="456.5" r="1.5" fill="none" stroke="#333333" stroke-width="1"/>
<circle cx="198.3" cy="458" r="1.5" fill="none" stroke="#333333" stroke-width="1"/>
<circle cx="202.3" cy="458" r="1.5" fill="none" stroke="#333333" stroke-width="1"/>
<circle cx="206.3" cy="458" r="1.5" fill="none" stroke="#333333" stroke-width="1"/>
<circle cx="200.3" cy="459.5" r="1.5" fill="none" stroke="#333333" stroke-width="1"/>
<circle cx="204.3" cy="459.5" r="1.5" fill="none" stroke="#333333" stroke-width="1"/>
<circle cx="202.3" cy="460" r="1.5" fill="none" stroke="#333333" stroke-width="1"/>
<line x1="197.5" y1="458" x2="207.1" y2="458" stroke="#1e1e1e" stroke-width="1.32"/>
<circle cx="213.16" cy="457" r="1.5" fill="none" stroke="#333333" stroke-width="1"/>
<circle cx="216.66" cy="457" r="1.5" fill="none" stroke="#333333" stroke-width="1"/>
<circle cx="220.16" cy="457.5" r="1.5" fill="none" stroke="#333333" stroke-width="1"/>
<circle cx="218.66" cy="458.5" r="1.5" fill="none" stroke="#333333" stroke-width="1"/>
<line x1="211.86" y1="457.4" x2="221.46" y2="457.4" stroke="#2b5886" stroke-width="1.32"/>
<circle cx="231.02" cy="441.5" r="1.5" fill="none" stroke="#333333" stroke-width="1"/>
<circle cx="227.42" cy="443.5" r="1.5" fill="none" stroke="#333333" stroke-width="1"/>
<circle cx="231.02" cy="443.5" r="1.5" fill="none" stroke="#333333" stroke-width="1"/>
<circle cx="234.62" cy="443.5" r="1.5" fill="none" stroke="#333333" stroke-width="1"/>
<circle cx="231.02" cy="447.7" r="1.5" fill="none" stroke="#333333" stroke-width="1"/>
<line x1="231.02" y1="441.5" x2="231.02" y2="445" stroke="#2b5886" stroke-width="0.99"/>
<line x1="228.62" y1="441.5" x2="233.42" y2="441.5" stroke="#2b5886" stroke-width="0.99"/>
<line x1="228.62" y1="445" x2="233.42" y2="445" stroke="#2b5886" stroke-width="0.99"/>
<line x1="226.22" y1="443" x2="235.82" y2="443" stroke="#2b5886" stroke-width="1.32"/>
<text x="231.32" y="441.4" font-size="9.8" text-anchor="middle" fill="#3d6fa8" stroke="#3d6fa8" stroke-width="0.2">**</text>
<circle cx="241.88" cy="451.2" r="1.5" fill="none" stroke="#333333" stroke-width="1"/>
<circle cx="245.38" cy="450.8" r="1.5" fill="none" stroke="#333333" stroke-width="1"/>
<circle cx="248.88" cy="451.2" r="1.5" fill="none" stroke="#333333" stroke-width="1"/>
<circle cx="245.38" cy="452.3" r="1.5" fill="none" stroke="#333333" stroke-width="1"/>
<line x1="240.58" y1="451.2" x2="250.18" y2="451.2" stroke="#2b5886" stroke-width="1.32"/>
<text x="245.68" y="449.4" font-size="9.8" text-anchor="middle" fill="#3d6fa8" stroke="#3d6fa8" stroke-width="0.2">****</text>
<circle cx="256.74" cy="451.2" r="1.5" fill="none" stroke="#333333" stroke-width="1"/>
<circle cx="259.74" cy="451.2" r="1.5" fill="none" stroke="#333333" stroke-width="1"/>
<circle cx="262.74" cy="452.3" r="1.5" fill="none" stroke="#333333" stroke-width="1"/>
<circle cx="261.74" cy="453.8" r="1.5" fill="none" stroke="#333333" stroke-width="1"/>
<line x1="254.94" y1="451.5" x2="264.54" y2="451.5" stroke="#2b5886" stroke-width="1.32"/>
<text x="260.04" y="450.1" font-size="9.8" text-anchor="middle" fill="#3d6fa8" stroke="#3d6fa8" stroke-width="0.2">***</text>
<circle cx="274.1" cy="411.5" r="1.5" fill="none" stroke="#333333" stroke-width="1"/>
<circle cx="270.5" cy="450" r="1.5" fill="none" stroke="#333333" stroke-width="1"/>
<circle cx="274.1" cy="450" r="1.5" fill="none" stroke="#333333" stroke-width="1"/>
<circle cx="277.7" cy="450" r="1.5" fill="none" stroke="#333333" stroke-width="1"/>
<circle cx="274.1" cy="452.3" r="1.5" fill="none" stroke="#333333" stroke-width="1"/>
<circle cx="274.1" cy="454.3" r="1.5" fill="none" stroke="#333333" stroke-width="1"/>
<line x1="274.1" y1="425.4" x2="274.1" y2="461.5" stroke="#8a8cc4" stroke-width="0.99"/>
<line x1="271.7" y1="425.4" x2="276.5" y2="425.4" stroke="#8a8cc4" stroke-width="0.99"/>
<line x1="271.7" y1="461.5" x2="276.5" y2="461.5" stroke="#8a8cc4" stroke-width="0.99"/>
<line x1="269.3" y1="443.5" x2="278.9" y2="443.5" stroke="#8a8cc4" stroke-width="1.32"/>
<circle cx="284.96" cy="458" r="1.5" fill="none" stroke="#333333" stroke-width="1"/>
<circle cx="288.46" cy="457.7" r="1.5" fill="none" stroke="#333333" stroke-width="1"/>
<circle cx="291.96" cy="458" r="1.5" fill="none" stroke="#333333" stroke-width="1"/>
<circle cx="288.46" cy="459" r="1.5" fill="none" stroke="#333333" stroke-width="1"/>
<line x1="283.66" y1="458" x2="293.26" y2="458" stroke="#a3a4dc" stroke-width="1.32"/>
<circle cx="299.32" cy="457.5" r="1.5" fill="none" stroke="#333333" stroke-width="1"/>
<circle cx="302.82" cy="457" r="1.5" fill="none" stroke="#333333" stroke-width="1"/>
<circle cx="306.32" cy="457.5" r="1.5" fill="none" stroke="#333333" stroke-width="1"/>
<circle cx="302.82" cy="458.5" r="1.5" fill="none" stroke="#333333" stroke-width="1"/>
<line x1="298.02" y1="457.5" x2="307.62" y2="457.5" stroke="#c0203e" stroke-width="1.32"/>
<circle cx="317.18" cy="445.4" r="1.5" fill="none" stroke="#333333" stroke-width="1"/>
<circle cx="314.18" cy="447" r="1.5" fill="none" stroke="#333333" stroke-width="1"/>
<circle cx="320.18" cy="447" r="1.5" fill="none" stroke="#333333" stroke-width="1"/>
<circle cx="317.18" cy="448.5" r="1.5" fill="none" stroke="#333333" stroke-width="1"/>
<line x1="312.38" y1="447" x2="321.98" y2="447" stroke="#f2a22a" stroke-width="1.32"/>
<text x="317.48" y="445.2" font-size="9.8" text-anchor="middle" fill="#f2a22a" stroke="#f2a22a" stroke-width="0.2">****</text>
<text transform="translate(66.6 474.5) rotate(-45)" font-size="8.8" text-anchor="end" fill="#2a2a2a" stroke="#2a2a2a" stroke-width="0.2">CTL</text>
<text transform="translate(81 474.5) rotate(-45)" font-size="8.8" text-anchor="end" fill="#2a2a2a" stroke="#2a2a2a" stroke-width="0.2">R170H/+</text>
<text transform="translate(95.4 474.5) rotate(-45)" font-size="8.8" text-anchor="end" fill="#2a2a2a" stroke="#2a2a2a" stroke-width="0.2">R411H/+</text>
<text transform="translate(109.8 474.5) rotate(-45)" font-size="8.8" text-anchor="end" fill="#2a2a2a" stroke="#2a2a2a" stroke-width="0.2">R452H/+</text>
<text transform="translate(124.2 474.5) rotate(-45)" font-size="8.8" text-anchor="end" fill="#2a2a2a" stroke="#2a2a2a" stroke-width="0.2">ins14/+</text>
<text transform="translate(138.6 474.5) rotate(-45)" font-size="8.8" text-anchor="end" fill="#2a2a2a" stroke="#2a2a2a" stroke-width="0.2">del2AA/+</text>
<text transform="translate(153 474.5) rotate(-45)" font-size="8.8" text-anchor="end" fill="#2a2a2a" stroke="#2a2a2a" stroke-width="0.2">Y175Lfs/+</text>
<text transform="translate(167.4 474.5) rotate(-45)" font-size="8.8" text-anchor="end" fill="#2a2a2a" stroke="#2a2a2a" stroke-width="0.2">Q548X/+</text>
<text transform="translate(181.8 474.5) rotate(-45)" font-size="8.8" text-anchor="end" fill="#2a2a2a" stroke="#2a2a2a" stroke-width="0.2">EPP</text>
<text transform="translate(205.7 474.5) rotate(-45)" font-size="8.8" text-anchor="end" fill="#2a2a2a" stroke="#2a2a2a" stroke-width="0.2">CTL</text>
<text transform="translate(220.06 474.5) rotate(-45)" font-size="8.8" text-anchor="end" fill="#2a2a2a" stroke="#2a2a2a" stroke-width="0.2">R170H/+</text>
<text transform="translate(234.42 474.5) rotate(-45)" font-size="8.8" text-anchor="end" fill="#2a2a2a" stroke="#2a2a2a" stroke-width="0.2">R411H/+</text>
<text transform="translate(248.78 474.5) rotate(-45)" font-size="8.8" text-anchor="end" fill="#2a2a2a" stroke="#2a2a2a" stroke-width="0.2">R452H/+</text>
<text transform="translate(263.14 474.5) rotate(-45)" font-size="8.8" text-anchor="end" fill="#2a2a2a" stroke="#2a2a2a" stroke-width="0.2">ins14/+</text>
<text transform="translate(277.5 474.5) rotate(-45)" font-size="8.8" text-anchor="end" fill="#2a2a2a" stroke="#2a2a2a" stroke-width="0.2">del2AA/+</text>
<text transform="translate(291.86 474.5) rotate(-45)" font-size="8.8" text-anchor="end" fill="#2a2a2a" stroke="#2a2a2a" stroke-width="0.2">Y175Lfs/+</text>
<text transform="translate(306.22 474.5) rotate(-45)" font-size="8.8" text-anchor="end" fill="#2a2a2a" stroke="#2a2a2a" stroke-width="0.2">Q548X/+</text>
<text transform="translate(320.58 474.5) rotate(-45)" font-size="8.8" text-anchor="end" fill="#2a2a2a" stroke="#2a2a2a" stroke-width="0.2">EPP</text>
<text x="7.2" y="16.9" font-size="12" font-weight="bold" fill="#111" stroke="#111" stroke-width="0.35">A</text>
<text x="122.2" y="18.1" font-size="10.5" text-anchor="middle" fill="#2a2a2a" stroke="#2a2a2a" stroke-width="0.2">5 weeks</text>
<text x="258.5" y="18.1" font-size="10.5" text-anchor="middle" fill="#2a2a2a" stroke="#2a2a2a" stroke-width="0.2">8 weeks</text>
<text x="7.6" y="529.3" font-size="12" font-weight="bold" fill="#111" stroke="#111" stroke-width="0.35">C</text>
<line x1="61.5" y1="552.7" x2="61.5" y2="653.5" stroke="#1e1e1e" stroke-width="1.2"/>
<line x1="61" y1="653" x2="163" y2="653" stroke="#1e1e1e" stroke-width="1.2"/>
<line x1="58.2" y1="555.2" x2="61.5" y2="555.2" stroke="#1e1e1e" stroke-width="1"/>
<text x="56" y="558.4" font-size="9" text-anchor="end" fill="#2a2a2a" stroke="#2a2a2a" stroke-width="0.2">50</text>
<line x1="58.2" y1="579.6" x2="61.5" y2="579.6" stroke="#1e1e1e" stroke-width="1"/>
<text x="56" y="582.8" font-size="9" text-anchor="end" fill="#2a2a2a" stroke="#2a2a2a" stroke-width="0.2">40</text>
<line x1="58.2" y1="604.2" x2="61.5" y2="604.2" stroke="#1e1e1e" stroke-width="1"/>
<text x="56" y="607.4" font-size="9" text-anchor="end" fill="#2a2a2a" stroke="#2a2a2a" stroke-width="0.2">30</text>
<line x1="58.2" y1="628.7" x2="61.5" y2="628.7" stroke="#1e1e1e" stroke-width="1"/>
<text x="56" y="631.9" font-size="9" text-anchor="end" fill="#2a2a2a" stroke="#2a2a2a" stroke-width="0.2">20</text>
<line x1="58.2" y1="653" x2="61.5" y2="653" stroke="#1e1e1e" stroke-width="1"/>
<text x="56" y="656.2" font-size="9" text-anchor="end" fill="#2a2a2a" stroke="#2a2a2a" stroke-width="0.2">10</text>
<line x1="71.2" y1="653" x2="71.2" y2="656" stroke="#1e1e1e" stroke-width="1"/>
<line x1="84.6" y1="653" x2="84.6" y2="656" stroke="#1e1e1e" stroke-width="1"/>
<line x1="98.5" y1="653" x2="98.5" y2="656" stroke="#1e1e1e" stroke-width="1"/>
<line x1="112" y1="653" x2="112" y2="656" stroke="#1e1e1e" stroke-width="1"/>
<line x1="126" y1="653" x2="126" y2="656" stroke="#1e1e1e" stroke-width="1"/>
<line x1="139.4" y1="653" x2="139.4" y2="656" stroke="#1e1e1e" stroke-width="1"/>
<line x1="153.3" y1="653" x2="153.3" y2="656" stroke="#1e1e1e" stroke-width="1"/>
<line x1="62.2" y1="612.3" x2="163" y2="612.3" stroke="#1e1e1e" stroke-width="1.3" stroke-dasharray="2.1 2.5"/>
<circle cx="71.2" cy="572.5" r="1.5" fill="none" stroke="#333333" stroke-width="1"/>
<circle cx="71.2" cy="604.2" r="1.5" fill="none" stroke="#333333" stroke-width="1"/>
<circle cx="71.2" cy="607.1" r="1.5" fill="none" stroke="#333333" stroke-width="1"/>
<circle cx="71.2" cy="610.4" r="1.5" fill="none" stroke="#333333" stroke-width="1"/>
<circle cx="69.2" cy="613.5" r="1.5" fill="none" stroke="#333333" stroke-width="1"/>
<circle cx="73.2" cy="613.5" r="1.5" fill="none" stroke="#333333" stroke-width="1"/>
<circle cx="67.7" cy="616.7" r="1.5" fill="none" stroke="#333333" stroke-width="1"/>
<circle cx="71.2" cy="616.7" r="1.5" fill="none" stroke="#333333" stroke-width="1"/>
<circle cx="74.7" cy="616.7" r="1.5" fill="none" stroke="#333333" stroke-width="1"/>
<circle cx="71.2" cy="626.3" r="1.5" fill="none" stroke="#333333" stroke-width="1"/>
<circle cx="71.2" cy="629.2" r="1.5" fill="none" stroke="#333333" stroke-width="1"/>
<circle cx="71.2" cy="631.5" r="1.5" fill="none" stroke="#333333" stroke-width="1"/>
<line x1="71.2" y1="600" x2="71.2" y2="626.3" stroke="#1e1e1e" stroke-width="0.99"/>
<line x1="68.8" y1="600" x2="73.6" y2="600" stroke="#1e1e1e" stroke-width="0.99"/>
<line x1="68.8" y1="626.3" x2="73.6" y2="626.3" stroke="#1e1e1e" stroke-width="0.99"/>
<line x1="65.7" y1="612.3" x2="76.7" y2="612.3" stroke="#1e1e1e" stroke-width="1.32"/>
<circle cx="84.6" cy="611.5" r="1.5" fill="none" stroke="#333333" stroke-width="1"/>
<circle cx="84.6" cy="613.8" r="1.5" fill="none" stroke="#333333" stroke-width="1"/>
<circle cx="81.1" cy="618.7" r="1.5" fill="none" stroke="#333333" stroke-width="1"/>
<circle cx="88.1" cy="618.7" r="1.5" fill="none" stroke="#333333" stroke-width="1"/>
<circle cx="81.1" cy="621.5" r="1.5" fill="none" stroke="#333333" stroke-width="1"/>
<circle cx="84.6" cy="621.5" r="1.5" fill="none" stroke="#333333" stroke-width="1"/>
<line x1="84.6" y1="613.5" x2="84.6" y2="619.6" stroke="#2b5886" stroke-width="0.99"/>
<line x1="82.2" y1="613.5" x2="87" y2="613.5" stroke="#2b5886" stroke-width="0.99"/>
<line x1="82.2" y1="619.6" x2="87" y2="619.6" stroke="#2b5886" stroke-width="0.99"/>
<line x1="79.8" y1="617.3" x2="89.4" y2="617.3" stroke="#2b5886" stroke-width="1.32"/>
<circle cx="95" cy="586.5" r="1.5" fill="none" stroke="#333333" stroke-width="1"/>
<circle cx="102" cy="586.5" r="1.5" fill="none" stroke="#333333" stroke-width="1"/>
<circle cx="98.5" cy="594.6" r="1.5" fill="none" stroke="#333333" stroke-width="1"/>
<circle cx="98.5" cy="606.2" r="1.5" fill="none" stroke="#333333" stroke-width="1"/>
<circle cx="98.5" cy="613.8" r="1.5" fill="none" stroke="#333333" stroke-width="1"/>
<line x1="98.5" y1="586.5" x2="98.5" y2="610" stroke="#2b5886" stroke-width="0.99"/>
<line x1="96.1" y1="586.5" x2="100.9" y2="586.5" stroke="#2b5886" stroke-width="0.99"/>
<line x1="96.1" y1="610" x2="100.9" y2="610" stroke="#2b5886" stroke-width="0.99"/>
<line x1="93.7" y1="597.9" x2="103.3" y2="597.9" stroke="#2b5886" stroke-width="1.32"/>
<circle cx="112" cy="631.2" r="1.5" fill="none" stroke="#333333" stroke-width="1"/>
<circle cx="108.5" cy="634" r="1.5" fill="none" stroke="#333333" stroke-width="1"/>
<circle cx="115" cy="634" r="1.5" fill="none" stroke="#333333" stroke-width="1"/>
<circle cx="112" cy="636.5" r="1.5" fill="none" stroke="#333333" stroke-width="1"/>
<circle cx="108.5" cy="638.8" r="1.5" fill="none" stroke="#333333" stroke-width="1"/>
<circle cx="115" cy="638.8" r="1.5" fill="none" stroke="#333333" stroke-width="1"/>
<line x1="112" y1="633" x2="112" y2="637.5" stroke="#2b5886" stroke-width="0.99"/>
<line x1="109.6" y1="633" x2="114.4" y2="633" stroke="#2b5886" stroke-width="0.99"/>
<line x1="109.6" y1="637.5" x2="114.4" y2="637.5" stroke="#2b5886" stroke-width="0.99"/>
<line x1="107.2" y1="635.4" x2="116.8" y2="635.4" stroke="#2b5886" stroke-width="1.32"/>
<text x="112.3" y="650" font-size="9.8" text-anchor="middle" fill="#3d6fa8" stroke="#3d6fa8" stroke-width="0.2">****</text>
<circle cx="126" cy="591.7" r="1.5" fill="none" stroke="#333333" stroke-width="1"/>
<circle cx="129.5" cy="594.2" r="1.5" fill="none" stroke="#333333" stroke-width="1"/>
<circle cx="122.5" cy="600.8" r="1.5" fill="none" stroke="#333333" stroke-width="1"/>
<circle cx="129.5" cy="600.8" r="1.5" fill="none" stroke="#333333" stroke-width="1"/>
<circle cx="129.5" cy="604.6" r="1.5" fill="none" stroke="#333333" stroke-width="1"/>
<circle cx="126" cy="611.5" r="1.5" fill="none" stroke="#333333" stroke-width="1"/>
<line x1="126" y1="593" x2="126" y2="609" stroke="#2b5886" stroke-width="0.99"/>
<line x1="123.6" y1="593" x2="128.4" y2="593" stroke="#2b5886" stroke-width="0.99"/>
<line x1="123.6" y1="609" x2="128.4" y2="609" stroke="#2b5886" stroke-width="0.99"/>
<line x1="121.2" y1="600.8" x2="130.8" y2="600.8" stroke="#2b5886" stroke-width="1.32"/>
<circle cx="139.4" cy="604.2" r="1.5" fill="none" stroke="#333333" stroke-width="1"/>
<circle cx="139.4" cy="613.8" r="1.5" fill="none" stroke="#333333" stroke-width="1"/>
<circle cx="136.4" cy="621.5" r="1.5" fill="none" stroke="#333333" stroke-width="1"/>
<circle cx="142.4" cy="621.5" r="1.5" fill="none" stroke="#333333" stroke-width="1"/>
<circle cx="139.4" cy="631.5" r="1.5" fill="none" stroke="#333333" stroke-width="1"/>
<line x1="139.4" y1="608.5" x2="139.4" y2="627.7" stroke="#8a8cc4" stroke-width="0.99"/>
<line x1="137" y1="608.5" x2="141.8" y2="608.5" stroke="#8a8cc4" stroke-width="0.99"/>
<line x1="137" y1="627.7" x2="141.8" y2="627.7" stroke="#8a8cc4" stroke-width="0.99"/>
<line x1="134.6" y1="617.7" x2="144.2" y2="617.7" stroke="#8a8cc4" stroke-width="1.32"/>
<circle cx="149.8" cy="596.2" r="1.5" fill="none" stroke="#333333" stroke-width="1"/>
<circle cx="156.8" cy="596.2" r="1.5" fill="none" stroke="#333333" stroke-width="1"/>
<circle cx="149.8" cy="613.8" r="1.5" fill="none" stroke="#333333" stroke-width="1"/>
<circle cx="156.8" cy="613.8" r="1.5" fill="none" stroke="#333333" stroke-width="1"/>
<line x1="153.3" y1="596" x2="153.3" y2="613.8" stroke="#a3a4dc" stroke-width="0.99"/>
<line x1="150.9" y1="596" x2="155.7" y2="596" stroke="#a3a4dc" stroke-width="0.99"/>
<line x1="150.9" y1="613.8" x2="155.7" y2="613.8" stroke="#a3a4dc" stroke-width="0.99"/>
<line x1="148.5" y1="605.6" x2="158.1" y2="605.6" stroke="#a3a4dc" stroke-width="1.32"/>
<text transform="translate(29 602.5) rotate(-90)" font-size="8.6" text-anchor="middle" fill="#2a2a2a" textLength="73" lengthAdjust="spacingAndGlyphs" stroke="#2a2a2a" stroke-width="0.2">RBC Zn-PPIX (µg/dL)</text>
<text transform="translate(39 603.2) rotate(-90)" font-size="8.6" text-anchor="middle" fill="#2a2a2a" textLength="38.5" lengthAdjust="spacingAndGlyphs" stroke="#2a2a2a" stroke-width="0.2">ProtofluorZ</text>
<text transform="translate(74.6 662.3) rotate(-45)" font-size="8.8" text-anchor="end" fill="#2a2a2a" stroke="#2a2a2a" stroke-width="0.2">CTL</text>
<text transform="translate(88 662.3) rotate(-45)" font-size="8.8" text-anchor="end" fill="#2a2a2a" stroke="#2a2a2a" stroke-width="0.2">R170H/+</text>
<text transform="translate(101.9 662.3) rotate(-45)" font-size="8.8" text-anchor="end" fill="#2a2a2a" stroke="#2a2a2a" stroke-width="0.2">R411H/+</text>
<text transform="translate(115.4 662.3) rotate(-45)" font-size="8.8" text-anchor="end" fill="#2a2a2a" stroke="#2a2a2a" stroke-width="0.2">R452H/+</text>
<text transform="translate(129.4 662.3) rotate(-45)" font-size="8.8" text-anchor="end" fill="#2a2a2a" stroke="#2a2a2a" stroke-width="0.2">ins14/+</text>
<text transform="translate(142.8 662.3) rotate(-45)" font-size="8.8" text-anchor="end" fill="#2a2a2a" stroke="#2a2a2a" stroke-width="0.2">del2AA/+</text>
<text transform="translate(156.7 662.3) rotate(-45)" font-size="8.8" text-anchor="end" fill="#2a2a2a" stroke="#2a2a2a" stroke-width="0.2">Y175Lfs/+</text>
<text x="180.3" y="529.6" font-size="12" font-weight="bold" fill="#111" stroke="#111" stroke-width="0.35">D</text>
<line x1="280" y1="525.5" x2="280" y2="654" stroke="#1e1e1e" stroke-width="1.2"/>
<line x1="279.5" y1="653.5" x2="401.7" y2="653.5" stroke="#1e1e1e" stroke-width="1.2"/>
<line x1="276.4" y1="653.5" x2="280" y2="653.5" stroke="#1e1e1e" stroke-width="0.8"/>
<line x1="278" y1="640.92" x2="280" y2="640.92" stroke="#1e1e1e" stroke-width="0.8"/>
<line x1="278" y1="633.56" x2="280" y2="633.56" stroke="#1e1e1e" stroke-width="0.8"/>
<line x1="278" y1="628.33" x2="280" y2="628.33" stroke="#1e1e1e" stroke-width="0.8"/>
<line x1="278" y1="624.28" x2="280" y2="624.28" stroke="#1e1e1e" stroke-width="0.8"/>
<line x1="278" y1="620.97" x2="280" y2="620.97" stroke="#1e1e1e" stroke-width="0.8"/>
<line x1="278" y1="618.17" x2="280" y2="618.17" stroke="#1e1e1e" stroke-width="0.8"/>
<line x1="278" y1="615.75" x2="280" y2="615.75" stroke="#1e1e1e" stroke-width="0.8"/>
<line x1="278" y1="613.61" x2="280" y2="613.61" stroke="#1e1e1e" stroke-width="0.8"/>
<line x1="276.4" y1="611.7" x2="280" y2="611.7" stroke="#1e1e1e" stroke-width="0.8"/>
<line x1="278" y1="599.12" x2="280" y2="599.12" stroke="#1e1e1e" stroke-width="0.8"/>
<line x1="278" y1="591.76" x2="280" y2="591.76" stroke="#1e1e1e" stroke-width="0.8"/>
<line x1="278" y1="586.53" x2="280" y2="586.53" stroke="#1e1e1e" stroke-width="0.8"/>
<line x1="278" y1="582.48" x2="280" y2="582.48" stroke="#1e1e1e" stroke-width="0.8"/>
<line x1="278" y1="579.17" x2="280" y2="579.17" stroke="#1e1e1e" stroke-width="0.8"/>
<line x1="278" y1="576.37" x2="280" y2="576.37" stroke="#1e1e1e" stroke-width="0.8"/>
<line x1="278" y1="573.95" x2="280" y2="573.95" stroke="#1e1e1e" stroke-width="0.8"/>
<line x1="278" y1="571.81" x2="280" y2="571.81" stroke="#1e1e1e" stroke-width="0.8"/>
<line x1="276.4" y1="569.9" x2="280" y2="569.9" stroke="#1e1e1e" stroke-width="0.8"/>
<line x1="278" y1="557.32" x2="280" y2="557.32" stroke="#1e1e1e" stroke-width="0.8"/>
<line x1="278" y1="549.96" x2="280" y2="549.96" stroke="#1e1e1e" stroke-width="0.8"/>
<line x1="278" y1="544.73" x2="280" y2="544.73" stroke="#1e1e1e" stroke-width="0.8"/>
<line x1="278" y1="540.68" x2="280" y2="540.68" stroke="#1e1e1e" stroke-width="0.8"/>
<line x1="278" y1="537.37" x2="280" y2="537.37" stroke="#1e1e1e" stroke-width="0.8"/>
<line x1="278" y1="534.57" x2="280" y2="534.57" stroke="#1e1e1e" stroke-width="0.8"/>
<line x1="278" y1="532.15" x2="280" y2="532.15" stroke="#1e1e1e" stroke-width="0.8"/>
<line x1="278" y1="530.01" x2="280" y2="530.01" stroke="#1e1e1e" stroke-width="0.8"/>
<line x1="276.4" y1="528.1" x2="280" y2="528.1" stroke="#1e1e1e" stroke-width="0.8"/>
<text x="274.5" y="531.3" font-size="8.6" text-anchor="end" fill="#2a2a2a" stroke="#2a2a2a" stroke-width="0.2">000</text>
<text x="274.5" y="573.1" font-size="8.6" text-anchor="end" fill="#2a2a2a" stroke="#2a2a2a" stroke-width="0.2">100</text>
<text x="274.5" y="614.9" font-size="8.6" text-anchor="end" fill="#2a2a2a" stroke="#2a2a2a" stroke-width="0.2">10</text>
<text x="274.5" y="656.7" font-size="8.6" text-anchor="end" fill="#2a2a2a" stroke="#2a2a2a" stroke-width="0.2">1</text>
<line x1="298.5" y1="653.5" x2="298.5" y2="656.5" stroke="#1e1e1e" stroke-width="1"/>
<line x1="326.2" y1="653.5" x2="326.2" y2="656.5" stroke="#1e1e1e" stroke-width="1"/>
<line x1="354.5" y1="653.5" x2="354.5" y2="656.5" stroke="#1e1e1e" stroke-width="1"/>
<line x1="382.5" y1="653.5" x2="382.5" y2="656.5" stroke="#1e1e1e" stroke-width="1"/>
<line x1="281" y1="634" x2="392" y2="634" stroke="#1e1e1e" stroke-width="1.3" stroke-dasharray="2.1 2.5"/>
<circle cx="300.5" cy="563" r="1.5" fill="none" stroke="#333333" stroke-width="1"/>
<circle cx="297.5" cy="564.2" r="1.5" fill="none" stroke="#333333" stroke-width="1"/>
<circle cx="291" cy="568.8" r="1.5" fill="none" stroke="#333333" stroke-width="1"/>
<circle cx="295" cy="568.3" r="1.5" fill="none" stroke="#333333" stroke-width="1"/>
<circle cx="298.5" cy="567.7" r="1.5" fill="none" stroke="#333333" stroke-width="1"/>
<circle cx="303" cy="568.8" r="1.5" fill="none" stroke="#333333" stroke-width="1"/>
<circle cx="306.5" cy="569.4" r="1.5" fill="none" stroke="#333333" stroke-width="1"/>
<line x1="298.5" y1="563" x2="298.5" y2="570" stroke="#f2a22a" stroke-width="0.99"/>
<line x1="293.7" y1="563" x2="303.3" y2="563" stroke="#f2a22a" stroke-width="0.99"/>
<line x1="293.7" y1="570" x2="303.3" y2="570" stroke="#f2a22a" stroke-width="0.99"/>
<line x1="289.5" y1="566.5" x2="307.5" y2="566.5" stroke="#f2a22a" stroke-width="1.32"/>
<circle cx="295.5" cy="575.8" r="1.5" fill="none" stroke="#333333" stroke-width="1"/>
<circle cx="298.5" cy="576.3" r="1.5" fill="none" stroke="#333333" stroke-width="1"/>
<circle cx="301.5" cy="575.8" r="1.5" fill="none" stroke="#333333" stroke-width="1"/>
<circle cx="298.5" cy="578.6" r="1.5" fill="none" stroke="#333333" stroke-width="1"/>
<circle cx="301.5" cy="578" r="1.5" fill="none" stroke="#333333" stroke-width="1"/>
<circle cx="295.5" cy="572" r="1.5" fill="none" stroke="#333333" stroke-width="1"/>
<circle cx="301.5" cy="572" r="1.5" fill="none" stroke="#333333" stroke-width="1"/>
<line x1="298.5" y1="567" x2="298.5" y2="578" stroke="#c0203e" stroke-width="0.99"/>
<line x1="293.7" y1="567" x2="303.3" y2="567" stroke="#c0203e" stroke-width="0.99"/>
<line x1="293.7" y1="578" x2="303.3" y2="578" stroke="#c0203e" stroke-width="0.99"/>
<line x1="289.5" y1="572.3" x2="307.5" y2="572.3" stroke="#c0203e" stroke-width="1.32"/>
<circle cx="326.2" cy="538.6" r="1.5" fill="none" stroke="#333333" stroke-width="1"/>
<circle cx="326.2" cy="542.9" r="1.5" fill="none" stroke="#333333" stroke-width="1"/>
<circle cx="323.8" cy="547" r="1.5" fill="none" stroke="#333333" stroke-width="1"/>
<circle cx="329" cy="547" r="1.5" fill="none" stroke="#333333" stroke-width="1"/>
<circle cx="326.2" cy="549.2" r="1.5" fill="none" stroke="#333333" stroke-width="1"/>
<circle cx="329" cy="549.2" r="1.5" fill="none" stroke="#333333" stroke-width="1"/>
<circle cx="323.8" cy="552.1" r="1.5" fill="none" stroke="#333333" stroke-width="1"/>
<line x1="326.2" y1="541" x2="326.2" y2="549.8" stroke="#f2a22a" stroke-width="0.99"/>
<line x1="321.4" y1="541" x2="331" y2="541" stroke="#f2a22a" stroke-width="0.99"/>
<line x1="321.4" y1="549.8" x2="331" y2="549.8" stroke="#f2a22a" stroke-width="0.99"/>
<line x1="317.2" y1="545.5" x2="335.2" y2="545.5" stroke="#f2a22a" stroke-width="1.32"/>
<circle cx="318.6" cy="567.4" r="1.5" fill="none" stroke="#333333" stroke-width="1"/>
<circle cx="323.8" cy="567.4" r="1.5" fill="none" stroke="#333333" stroke-width="1"/>
<circle cx="329" cy="567.4" r="1.5" fill="none" stroke="#333333" stroke-width="1"/>
<circle cx="334.2" cy="567.4" r="1.5" fill="none" stroke="#333333" stroke-width="1"/>
<circle cx="323.8" cy="571.1" r="1.5" fill="none" stroke="#333333" stroke-width="1"/>
<circle cx="329" cy="571.1" r="1.5" fill="none" stroke="#333333" stroke-width="1"/>
<circle cx="329" cy="574" r="1.5" fill="none" stroke="#333333" stroke-width="1"/>
<line x1="326.2" y1="566" x2="326.2" y2="571.5" stroke="#c0203e" stroke-width="0.99"/>
<line x1="321.4" y1="566" x2="331" y2="566" stroke="#c0203e" stroke-width="0.99"/>
<line x1="321.4" y1="571.5" x2="331" y2="571.5" stroke="#c0203e" stroke-width="0.99"/>
<line x1="317.2" y1="568.8" x2="335.2" y2="568.8" stroke="#c0203e" stroke-width="1.32"/>
<circle cx="354.5" cy="540.6" r="1.5" fill="none" stroke="#333333" stroke-width="1"/>
<circle cx="357.5" cy="543.8" r="1.5" fill="none" stroke="#333333" stroke-width="1"/>
<circle cx="346.5" cy="547.3" r="1.5" fill="none" stroke="#333333" stroke-width="1"/>
<circle cx="362.5" cy="547.3" r="1.5" fill="none" stroke="#333333" stroke-width="1"/>
<circle cx="352" cy="548.5" r="1.5" fill="none" stroke="#333333" stroke-width="1"/>
<line x1="354.5" y1="542.7" x2="354.5" y2="547.3" stroke="#f2a22a" stroke-width="0.99"/>
<line x1="349.7" y1="542.7" x2="359.3" y2="542.7" stroke="#f2a22a" stroke-width="0.99"/>
<line x1="349.7" y1="547.3" x2="359.3" y2="547.3" stroke="#f2a22a" stroke-width="0.99"/>
<line x1="345.5" y1="545" x2="363.5" y2="545" stroke="#f2a22a" stroke-width="1.32"/>
<circle cx="352" cy="585.4" r="1.5" fill="none" stroke="#333333" stroke-width="1"/>
<circle cx="357.5" cy="588.2" r="1.5" fill="none" stroke="#333333" stroke-width="1"/>
<circle cx="346.5" cy="590.6" r="1.5" fill="none" stroke="#333333" stroke-width="1"/>
<circle cx="346.5" cy="592.9" r="1.5" fill="none" stroke="#333333" stroke-width="1"/>
<circle cx="352" cy="592.9" r="1.5" fill="none" stroke="#333333" stroke-width="1"/>
<circle cx="362.5" cy="592.9" r="1.5" fill="none" stroke="#333333" stroke-width="1"/>
<circle cx="346.5" cy="595.2" r="1.5" fill="none" stroke="#333333" stroke-width="1"/>
<circle cx="352" cy="596.3" r="1.5" fill="none" stroke="#333333" stroke-width="1"/>
<circle cx="357.5" cy="596.3" r="1.5" fill="none" stroke="#333333" stroke-width="1"/>
<circle cx="354.5" cy="602" r="1.5" fill="none" stroke="#333333" stroke-width="1"/>
<line x1="354.5" y1="588" x2="354.5" y2="598" stroke="#c0203e" stroke-width="0.99"/>
<line x1="349.7" y1="588" x2="359.3" y2="588" stroke="#c0203e" stroke-width="0.99"/>
<line x1="349.7" y1="598" x2="359.3" y2="598" stroke="#c0203e" stroke-width="0.99"/>
<line x1="345.5" y1="592.9" x2="363.5" y2="592.9" stroke="#c0203e" stroke-width="1.32"/>
<circle cx="379" cy="562.9" r="1.5" fill="none" stroke="#333333" stroke-width="1"/>
<circle cx="382.5" cy="562.9" r="1.5" fill="none" stroke="#333333" stroke-width="1"/>
<circle cx="386.5" cy="562.9" r="1.5" fill="none" stroke="#333333" stroke-width="1"/>
<circle cx="390.5" cy="561" r="1.5" fill="none" stroke="#333333" stroke-width="1"/>
<circle cx="382.5" cy="569.2" r="1.5" fill="none" stroke="#333333" stroke-width="1"/>
<line x1="382.5" y1="561" x2="382.5" y2="566" stroke="#f2a22a" stroke-width="0.99"/>
<line x1="377.7" y1="561" x2="387.3" y2="561" stroke="#f2a22a" stroke-width="0.99"/>
<line x1="377.7" y1="566" x2="387.3" y2="566" stroke="#f2a22a" stroke-width="0.99"/>
<line x1="373.5" y1="563.4" x2="391.5" y2="563.4" stroke="#f2a22a" stroke-width="1.32"/>
<circle cx="382.5" cy="583.3" r="1.5" fill="none" stroke="#333333" stroke-width="1"/>
<circle cx="382.5" cy="590" r="1.5" fill="none" stroke="#333333" stroke-width="1"/>
<circle cx="382.5" cy="592.9" r="1.5" fill="none" stroke="#333333" stroke-width="1"/>
<circle cx="380.5" cy="596.3" r="1.5" fill="none" stroke="#333333" stroke-width="1"/>
<circle cx="384.5" cy="596.3" r="1.5" fill="none" stroke="#333333" stroke-width="1"/>
<line x1="382.5" y1="586.5" x2="382.5" y2="598" stroke="#c0203e" stroke-width="0.99"/>
<line x1="377.7" y1="586.5" x2="387.3" y2="586.5" stroke="#c0203e" stroke-width="0.99"/>
<line x1="377.7" y1="598" x2="387.3" y2="598" stroke="#c0203e" stroke-width="0.99"/>
<line x1="373.5" y1="591.1" x2="391.5" y2="591.1" stroke="#c0203e" stroke-width="1.32"/>
<circle cx="294" cy="610.4" r="1.5" fill="none" stroke="#333333" stroke-width="1"/>
<circle cx="298" cy="610.4" r="1.5" fill="none" stroke="#333333" stroke-width="1"/>
<circle cx="302" cy="610.4" r="1.5" fill="none" stroke="#333333" stroke-width="1"/>
<circle cx="304.5" cy="612" r="1.5" fill="none" stroke="#333333" stroke-width="1"/>
<circle cx="296.5" cy="615" r="1.5" fill="none" stroke="#333333" stroke-width="1"/>
<circle cx="295.5" cy="617.3" r="1.5" fill="none" stroke="#333333" stroke-width="1"/>
<circle cx="301" cy="617.3" r="1.5" fill="none" stroke="#333333" stroke-width="1"/>
<line x1="298.5" y1="611" x2="298.5" y2="616" stroke="#1e1e1e" stroke-width="0.99"/>
<line x1="293.7" y1="611" x2="303.3" y2="611" stroke="#1e1e1e" stroke-width="0.99"/>
<line x1="293.7" y1="616" x2="303.3" y2="616" stroke="#1e1e1e" stroke-width="0.99"/>
<line x1="289.5" y1="613.4" x2="307.5" y2="613.4" stroke="#1e1e1e" stroke-width="1.32"/>
<circle cx="326.2" cy="620.8" r="1.5" fill="none" stroke="#333333" stroke-width="1"/>
<circle cx="318.2" cy="626.5" r="1.5" fill="none" stroke="#333333" stroke-width="1"/>
<circle cx="322.7" cy="626.5" r="1.5" fill="none" stroke="#333333" stroke-width="1"/>
<circle cx="326.2" cy="626.5" r="1.5" fill="none" stroke="#333333" stroke-width="1"/>
<circle cx="329.7" cy="626.5" r="1.5" fill="none" stroke="#333333" stroke-width="1"/>
<circle cx="334.2" cy="626.5" r="1.5" fill="none" stroke="#333333" stroke-width="1"/>
<circle cx="326.2" cy="628.8" r="1.5" fill="none" stroke="#333333" stroke-width="1"/>
<line x1="326.2" y1="624" x2="326.2" y2="629" stroke="#1e1e1e" stroke-width="0.99"/>
<line x1="321.4" y1="624" x2="331" y2="624" stroke="#1e1e1e" stroke-width="0.99"/>
<line x1="321.4" y1="629" x2="331" y2="629" stroke="#1e1e1e" stroke-width="0.99"/>
<line x1="317.2" y1="627.2" x2="335.2" y2="627.2" stroke="#1e1e1e" stroke-width="1.32"/>
<circle cx="351.5" cy="628.2" r="1.5" fill="none" stroke="#333333" stroke-width="1"/>
<circle cx="357.5" cy="628.2" r="1.5" fill="none" stroke="#333333" stroke-width="1"/>
<circle cx="347" cy="633.5" r="1.5" fill="none" stroke="#333333" stroke-width="1"/>
<circle cx="362" cy="633.5" r="1.5" fill="none" stroke="#333333" stroke-width="1"/>
<circle cx="349.5" cy="640.4" r="1.5" fill="none" stroke="#333333" stroke-width="1"/>
<circle cx="354.5" cy="640.4" r="1.5" fill="none" stroke="#333333" stroke-width="1"/>
<circle cx="359.5" cy="640.4" r="1.5" fill="none" stroke="#333333" stroke-width="1"/>
<line x1="354.5" y1="628.8" x2="354.5" y2="639.2" stroke="#1e1e1e" stroke-width="0.99"/>
<line x1="349.7" y1="628.8" x2="359.3" y2="628.8" stroke="#1e1e1e" stroke-width="0.99"/>
<line x1="349.7" y1="639.2" x2="359.3" y2="639.2" stroke="#1e1e1e" stroke-width="0.99"/>
<line x1="345.5" y1="633.5" x2="363.5" y2="633.5" stroke="#1e1e1e" stroke-width="1.32"/>
<circle cx="382.5" cy="620.8" r="1.5" fill="none" stroke="#333333" stroke-width="1"/>
<circle cx="380.5" cy="631.2" r="1.5" fill="none" stroke="#333333" stroke-width="1"/>
<circle cx="384.5" cy="631.2" r="1.5" fill="none" stroke="#333333" stroke-width="1"/>
<circle cx="382.5" cy="634.2" r="1.5" fill="none" stroke="#333333" stroke-width="1"/>
<circle cx="373.5" cy="641" r="1.5" fill="none" stroke="#333333" stroke-width="1"/>
<circle cx="378" cy="641" r="1.5" fill="none" stroke="#333333" stroke-width="1"/>
<circle cx="382.5" cy="641" r="1.5" fill="none" stroke="#333333" stroke-width="1"/>
<circle cx="387" cy="641" r="1.5" fill="none" stroke="#333333" stroke-width="1"/>
<circle cx="391.5" cy="641" r="1.5" fill="none" stroke="#333333" stroke-width="1"/>
<line x1="382.5" y1="627.7" x2="382.5" y2="646" stroke="#1e1e1e" stroke-width="0.99"/>
<line x1="377.7" y1="627.7" x2="387.3" y2="627.7" stroke="#1e1e1e" stroke-width="0.99"/>
<line x1="377.7" y1="646" x2="387.3" y2="646" stroke="#1e1e1e" stroke-width="0.99"/>
<line x1="373.5" y1="634.6" x2="391.5" y2="634.6" stroke="#1e1e1e" stroke-width="1.32"/>
<text x="396" y="566.8" font-size="9" fill="#f2a22a" stroke="#f2a22a" stroke-width="0.2">EPP</text>
<text x="396" y="598.1" font-size="9" fill="#c0203e" stroke="#c0203e" stroke-width="0.2">Q548X/+</text>
<text x="396" y="638.5" font-size="9" fill="#222" stroke="#222" stroke-width="0.2">CTL</text>
<text transform="translate(253.01 588) rotate(-90)" font-size="8.6" text-anchor="middle" fill="#2a2a2a" textLength="66" lengthAdjust="spacingAndGlyphs" stroke="#2a2a2a" stroke-width="0.2">RBC mf-PPIX (MFI)</text>
<text x="298.5" y="666" font-size="9" text-anchor="middle" fill="#2a2a2a" stroke="#2a2a2a" stroke-width="0.2">1W</text>
<text x="326.2" y="666" font-size="9" text-anchor="middle" fill="#2a2a2a" stroke="#2a2a2a" stroke-width="0.2">3W</text>
<text x="354.5" y="666" font-size="9" text-anchor="middle" fill="#2a2a2a" stroke="#2a2a2a" stroke-width="0.2">5W</text>
<text x="382.5" y="666" font-size="9" text-anchor="middle" fill="#2a2a2a" stroke="#2a2a2a" stroke-width="0.2">8W</text>
<text x="285.5" y="679.95" font-size="9.2" text-anchor="end" fill="#2a2a2a" textLength="65.5" lengthAdjust="spacingAndGlyphs" stroke="#2a2a2a" stroke-width="0.2">Q548X/+ vs. CTL</text>
<text x="298.8" y="681.25" font-size="10" text-anchor="middle" fill="#2a2a2a" stroke="#2a2a2a" stroke-width="0.2">****</text>
<text x="326.5" y="681.25" font-size="10" text-anchor="middle" fill="#2a2a2a" stroke="#2a2a2a" stroke-width="0.2">***</text>
<text x="354.8" y="681.25" font-size="10" text-anchor="middle" fill="#2a2a2a" stroke="#2a2a2a" stroke-width="0.2">****</text>
<text x="382.8" y="681.25" font-size="10" text-anchor="middle" fill="#2a2a2a" stroke="#2a2a2a" stroke-width="0.2">*</text>
<text x="285.5" y="691.95" font-size="9.2" text-anchor="end" fill="#2a2a2a" textLength="105.5" lengthAdjust="spacingAndGlyphs" stroke="#2a2a2a" stroke-width="0.2">Q548X/+ vs. Q548X/+ (8W)</text>
<text x="298.5" y="691.95" font-size="8.8" text-anchor="middle" fill="#2a2a2a" stroke="#2a2a2a" stroke-width="0.2">####</text>
<text x="326.2" y="691.95" font-size="8.8" text-anchor="middle" fill="#2a2a2a" stroke="#2a2a2a" stroke-width="0.2">####</text>
<text x="354.5" y="691.75" font-size="9" text-anchor="middle" fill="#2a2a2a" stroke="#2a2a2a" stroke-width="0.2">ns</text>
<text x="382.5" y="691.75" font-size="9" text-anchor="middle" fill="#2a2a2a" stroke="#2a2a2a" stroke-width="0.2">-</text>
<text x="285.5" y="704.45" font-size="9.2" text-anchor="end" fill="#2a2a2a" textLength="44.75" lengthAdjust="spacingAndGlyphs" stroke="#2a2a2a" stroke-width="0.2">EPP vs. CTL</text>
<text x="298.8" y="705.75" font-size="10" text-anchor="middle" fill="#2a2a2a" stroke="#2a2a2a" stroke-width="0.2">****</text>
<text x="326.5" y="705.75" font-size="10" text-anchor="middle" fill="#2a2a2a" stroke="#2a2a2a" stroke-width="0.2">**</text>
<text x="354.8" y="705.75" font-size="10" text-anchor="middle" fill="#2a2a2a" stroke="#2a2a2a" stroke-width="0.2">**</text>
<text x="382.8" y="705.75" font-size="10" text-anchor="middle" fill="#2a2a2a" stroke="#2a2a2a" stroke-width="0.2">***</text>
<text x="285.5" y="716.95" font-size="9.2" text-anchor="end" fill="#2a2a2a" textLength="64.75" lengthAdjust="spacingAndGlyphs" stroke="#2a2a2a" stroke-width="0.2">EPP vs. EPP (8W)</text>
<text x="298.5" y="716.75" font-size="9" text-anchor="middle" fill="#2a2a2a" stroke="#2a2a2a" stroke-width="0.2">ns</text>
<text x="326.2" y="716.95" font-size="8.8" text-anchor="middle" fill="#2a2a2a" stroke="#2a2a2a" stroke-width="0.2">##</text>
<text x="354.5" y="716.95" font-size="8.8" text-anchor="middle" fill="#2a2a2a" stroke="#2a2a2a" stroke-width="0.2">##</text>
<text x="382.5" y="716.75" font-size="9" text-anchor="middle" fill="#2a2a2a" stroke="#2a2a2a" stroke-width="0.2">-</text>
<text x="345" y="17.3" font-size="12" font-weight="bold" fill="#111" stroke="#111" stroke-width="0.35">B</text>
<defs>
<filter id="blr" x="-5%" y="-5%" width="110%" height="110%"><feGaussianBlur stdDeviation="0.75"/></filter>
<radialGradient id="g0"><stop offset="0" stop-color="#c890c8"/><stop offset="0.5" stop-color="#c07abc"/><stop offset="0.7" stop-color="#c07abc"/><stop offset="0.88" stop-color="#ac5aa8"/><stop offset="1" stop-color="#ac5aa8"/></radialGradient>
<clipPath id="cp0"><rect x="368.8" y="20.4" width="143.5" height="47"/></clipPath>
<radialGradient id="g1"><stop offset="0" stop-color="#c890c8"/><stop offset="0.5" stop-color="#c07abc"/><stop offset="0.7" stop-color="#c07abc"/><stop offset="0.88" stop-color="#ac5aa8"/><stop offset="1" stop-color="#ac5aa8"/></radialGradient>
<clipPath id="cp1"><rect x="368.8" y="77.3" width="143.5" height="47.1"/></clipPath>
<radialGradient id="g2"><stop offset="0" stop-color="#cec5dc"/><stop offset="0.5" stop-color="#cbbeda"/><stop offset="0.7" stop-color="#cbbeda"/><stop offset="0.88" stop-color="#c2aece"/><stop offset="1" stop-color="#c2aece"/></radialGradient>
<clipPath id="cp2"><rect x="368.8" y="134.4" width="143.5" height="48.1"/></clipPath>
<radialGradient id="g3"><stop offset="0" stop-color="#c89ccc"/><stop offset="0.5" stop-color="#c074bc"/><stop offset="0.7" stop-color="#c074bc"/><stop offset="0.88" stop-color="#aa56a6"/><stop offset="1" stop-color="#aa56a6"/></radialGradient>
<clipPath id="cp3"><rect x="368.8" y="192.1" width="143.5" height="47.9"/></clipPath>
<radialGradient id="g4"><stop offset="0" stop-color="#bab4cd"/><stop offset="0.5" stop-color="#b9aecb"/><stop offset="0.7" stop-color="#b9aecb"/><stop offset="0.88" stop-color="#ae96bc"/><stop offset="1" stop-color="#ae96bc"/></radialGradient>
<clipPath id="cp4"><rect x="368.8" y="250" width="143.5" height="47.6"/></clipPath>
<radialGradient id="g5"><stop offset="0" stop-color="#cfa6d2"/><stop offset="0.5" stop-color="#c488c4"/><stop offset="0.7" stop-color="#c488c4"/><stop offset="0.88" stop-color="#aa5aa8"/><stop offset="1" stop-color="#aa5aa8"/></radialGradient>
<clipPath id="cp5"><rect x="368.8" y="307.3" width="143.5" height="48.8"/></clipPath>
<radialGradient id="g6"><stop offset="0" stop-color="#c890c4"/><stop offset="0.5" stop-color="#bc64ac"/><stop offset="0.7" stop-color="#bc64ac"/><stop offset="0.88" stop-color="#a84e9c"/><stop offset="1" stop-color="#a84e9c"/></radialGradient>
<clipPath id="cp6"><rect x="368.8" y="365.6" width="143.5" height="48.8"/></clipPath>
<radialGradient id="g7"><stop offset="0" stop-color="#c8b8d8"/><stop offset="0.5" stop-color="#c2acd2"/><stop offset="0.7" stop-color="#c2acd2"/><stop offset="0.88" stop-color="#b298c6"/><stop offset="1" stop-color="#b298c6"/></radialGradient>
<clipPath id="cp7"><rect x="368.8" y="424.3" width="143.5" height="49.7"/></clipPath>
<radialGradient id="gp"><stop offset="0" stop-color="#cdc0da"/><stop offset="0.7" stop-color="#c8b8d6"/><stop offset="1" stop-color="#b89ac0"/></radialGradient>
</defs>
<g clip-path="url(#cp0)">
<rect x="368.8" y="20.4" width="143.5" height="47" fill="#cbc3dd"/>
<g filter="url(#blr)">
<circle cx="372" cy="27" r="7.35" fill="url(#g0)"/>
<circle cx="388.8" cy="27.6" r="8.72" fill="url(#g0)"/>
<circle cx="409.5" cy="35.2" r="9.45" fill="url(#g0)"/>
<circle cx="429" cy="33.9" r="9.45" fill="url(#g0)"/>
<circle cx="383.2" cy="47.7" r="9.45" fill="url(#g0)"/>
<circle cx="403.3" cy="55.3" r="10.19" fill="url(#g0)"/>
<circle cx="432.4" cy="56.7" r="8.72" fill="url(#g0)"/>
<circle cx="390" cy="66" r="8.4" fill="url(#g0)"/>
<circle cx="370.8" cy="54.6" r="6.3" fill="url(#g0)"/>
<circle cx="447.7" cy="29.1" r="8.09" fill="url(#g0)"/>
<circle cx="467.4" cy="32.6" r="8.82" fill="url(#g0)"/>
<circle cx="489.9" cy="27.7" r="8.09" fill="url(#g0)"/>
<circle cx="508.8" cy="28.4" r="6.3" fill="url(#g0)"/>
<circle cx="451.2" cy="46.7" r="9.55" fill="url(#g0)"/>
<circle cx="503.2" cy="42.5" r="8.82" fill="url(#g0)"/>
<circle cx="468.1" cy="55.8" r="8.82" fill="url(#g0)"/>
<circle cx="477.2" cy="60.7" r="8.09" fill="url(#g0)"/>
<circle cx="494.8" cy="55.1" r="8.82" fill="url(#g0)"/>
<circle cx="504.6" cy="60.7" r="8.09" fill="url(#g0)"/>
</g>
</g>
<rect x="368.8" y="20.4" width="143.5" height="47" fill="none" stroke="#2a2228" stroke-width="1.4"/>
<text transform="translate(363.41 43.9) rotate(-90)" font-size="8.6" text-anchor="middle" fill="#2a2a2a" stroke="#2a2a2a" stroke-width="0.2">CTL</text>
<g clip-path="url(#cp1)">
<rect x="368.8" y="77.3" width="143.5" height="47.1" fill="#c6bcda"/>
<g filter="url(#blr)">
<circle cx="390.9" cy="92.2" r="8.72" fill="url(#g1)"/>
<circle cx="401.2" cy="80.5" r="7.88" fill="url(#g1)"/>
<circle cx="419.2" cy="85.3" r="9.45" fill="url(#g1)"/>
<circle cx="374.9" cy="109.5" r="7.98" fill="url(#g1)"/>
<circle cx="392.2" cy="110.2" r="9.45" fill="url(#g1)"/>
<circle cx="412.3" cy="103.3" r="9.45" fill="url(#g1)"/>
<circle cx="427.6" cy="114.4" r="8.72" fill="url(#g1)"/>
<circle cx="404" cy="121.3" r="7.35" fill="url(#g1)"/>
<circle cx="442.8" cy="81.2" r="6.83" fill="url(#g1)"/>
<circle cx="458.3" cy="82.6" r="8.82" fill="url(#g1)"/>
<circle cx="476.5" cy="87.5" r="8.82" fill="url(#g1)"/>
<circle cx="503.2" cy="84.7" r="8.09" fill="url(#g1)"/>
<circle cx="444.2" cy="98.1" r="9.55" fill="url(#g1)"/>
<circle cx="494.1" cy="97.4" r="9.55" fill="url(#g1)"/>
<circle cx="508.1" cy="101.6" r="7.88" fill="url(#g1)"/>
<circle cx="480.7" cy="110" r="8.82" fill="url(#g1)"/>
<circle cx="456.9" cy="119.1" r="8.09" fill="url(#g1)"/>
</g>
</g>
<rect x="368.8" y="77.3" width="143.5" height="47.1" fill="none" stroke="#2a2228" stroke-width="1.4"/>
<text transform="translate(363.41 100.85) rotate(-90)" font-size="8.6" text-anchor="middle" fill="#2a2a2a" stroke="#2a2a2a" stroke-width="0.2">R170H/+</text>
<g clip-path="url(#cp2)">
<rect x="368.8" y="134.4" width="143.5" height="48.1" fill="#cbc6dc"/>
<g filter="url(#blr)">
<circle cx="377.7" cy="144.4" r="7.98" fill="url(#g2)"/>
<circle cx="402.6" cy="158.2" r="8.72" fill="url(#g2)"/>
<circle cx="422.7" cy="146.5" r="8.72" fill="url(#g2)"/>
<circle cx="429" cy="164.5" r="8.72" fill="url(#g2)"/>
<circle cx="390" cy="170" r="7.35" fill="url(#g2)"/>
<circle cx="470.2" cy="143.1" r="8.09" fill="url(#g2)"/>
<circle cx="448.4" cy="149.4" r="8.82" fill="url(#g2)"/>
<circle cx="458.3" cy="159.3" r="8.82" fill="url(#g2)"/>
<circle cx="489.2" cy="160.7" r="8.82" fill="url(#g2)"/>
<circle cx="472.3" cy="171.9" r="8.09" fill="url(#g2)"/>
<circle cx="506.7" cy="169.1" r="7.35" fill="url(#g2)"/>
<circle cx="442.8" cy="164.9" r="7.35" fill="url(#g2)"/>
<circle cx="455.4" cy="179" r="7.35" fill="url(#g2)"/>
<circle cx="385" cy="137" r="6.3" fill="url(#g2)"/>
</g>
</g>
<rect x="368.8" y="134.4" width="143.5" height="48.1" fill="none" stroke="#2a2228" stroke-width="1.4"/>
<text transform="translate(363.41 158.45) rotate(-90)" font-size="8.6" text-anchor="middle" fill="#2a2a2a" stroke="#2a2a2a" stroke-width="0.2">R411H/+</text>
<g clip-path="url(#cp3)">
<rect x="368.8" y="192.1" width="143.5" height="47.9" fill="#cbbedc"/>
<g filter="url(#blr)">
<circle cx="380.5" cy="205.9" r="10.19" fill="url(#g3)"/>
<circle cx="395.7" cy="196.8" r="7.98" fill="url(#g3)"/>
<circle cx="401.9" cy="210.7" r="9.45" fill="url(#g3)"/>
<circle cx="416.5" cy="195.5" r="7.35" fill="url(#g3)"/>
<circle cx="431.7" cy="205.2" r="8.72" fill="url(#g3)"/>
<circle cx="419.9" cy="215.5" r="9.45" fill="url(#g3)"/>
<circle cx="373.5" cy="224.5" r="7.98" fill="url(#g3)"/>
<circle cx="390.9" cy="225.9" r="10.19" fill="url(#g3)"/>
<circle cx="410.9" cy="230.8" r="9.45" fill="url(#g3)"/>
<circle cx="437" cy="225.2" r="8.4" fill="url(#g3)"/>
<circle cx="377.7" cy="238.5" r="7.35" fill="url(#g3)"/>
<circle cx="397.8" cy="239.5" r="7.35" fill="url(#g3)"/>
<circle cx="442.1" cy="194.8" r="6.3" fill="url(#g3)"/>
<circle cx="468.1" cy="202.5" r="8.82" fill="url(#g3)"/>
<circle cx="490.6" cy="196.9" r="8.09" fill="url(#g3)"/>
<circle cx="507.4" cy="197.6" r="7.35" fill="url(#g3)"/>
<circle cx="449.1" cy="210.3" r="8.09" fill="url(#g3)"/>
<circle cx="483.5" cy="213.8" r="8.82" fill="url(#g3)"/>
<circle cx="505.3" cy="212.4" r="8.09" fill="url(#g3)"/>
<circle cx="465.3" cy="221.5" r="8.82" fill="url(#g3)"/>
<circle cx="503.2" cy="230.6" r="8.82" fill="url(#g3)"/>
<circle cx="467.4" cy="237" r="7.35" fill="url(#g3)"/>
<circle cx="487" cy="236.5" r="7.88" fill="url(#g3)"/>
</g>
</g>
<rect x="368.8" y="192.1" width="143.5" height="47.9" fill="none" stroke="#2a2228" stroke-width="1.4"/>
<text transform="translate(363.41 216.05) rotate(-90)" font-size="8.6" text-anchor="middle" fill="#2a2a2a" stroke="#2a2a2a" stroke-width="0.2">R452H/+</text>
<g clip-path="url(#cp4)">
<rect x="368.8" y="250" width="143.5" height="47.6" fill="#b8b5cd"/>
<g filter="url(#blr)">
<circle cx="386.8" cy="266.8" r="8.4" fill="url(#g4)"/>
<circle cx="403" cy="274.9" r="8.4" fill="url(#g4)"/>
<circle cx="423.8" cy="272.9" r="8.4" fill="url(#g4)"/>
<circle cx="437.3" cy="258" r="7.35" fill="url(#g4)"/>
<circle cx="476.5" cy="272.5" r="8.09" fill="url(#g4)"/>
<circle cx="475.1" cy="255" r="7.35" fill="url(#g4)"/>
<circle cx="445.6" cy="280.9" r="8.82" fill="url(#g4)"/>
<circle cx="489.2" cy="288" r="8.09" fill="url(#g4)"/>
<circle cx="508.8" cy="271" r="8.4" fill="url(#g4)"/>
<circle cx="456.9" cy="255.6" r="7.35" fill="url(#g4)"/>
<circle cx="504.6" cy="257" r="7.35" fill="url(#g4)"/>
<circle cx="472.3" cy="291" r="7.35" fill="url(#g4)"/>
<circle cx="372" cy="257" r="6.3" fill="url(#g4)"/>
</g>
</g>
<rect x="368.8" y="250" width="143.5" height="47.6" fill="none" stroke="#2a2228" stroke-width="1.4"/>
<text transform="translate(363.41 273.8) rotate(-90)" font-size="8.6" text-anchor="middle" fill="#2a2a2a" stroke="#2a2a2a" stroke-width="0.2">ins14/+</text>
<g clip-path="url(#cp5)">
<rect x="368.8" y="307.3" width="143.5" height="48.8" fill="#cdc4dd"/>
<g filter="url(#blr)">
<circle cx="373.5" cy="326.4" r="7.35" fill="url(#g5)"/>
<circle cx="395" cy="325.7" r="8.72" fill="url(#g5)"/>
<circle cx="431.7" cy="323.6" r="8.72" fill="url(#g5)"/>
<circle cx="405.4" cy="338.9" r="9.45" fill="url(#g5)"/>
<circle cx="372.2" cy="338.9" r="7.35" fill="url(#g5)"/>
<circle cx="477.9" cy="335.1" r="9.13" fill="url(#g5)"/>
<circle cx="493.4" cy="345.6" r="8.09" fill="url(#gp)"/>
<circle cx="458.3" cy="352" r="8.4" fill="url(#g5)"/>
<circle cx="507.4" cy="350.5" r="7.35" fill="url(#g5)"/>
</g>
</g>
<rect x="368.8" y="307.3" width="143.5" height="48.8" fill="none" stroke="#2a2228" stroke-width="1.4"/>
<text transform="translate(363.41 331.7) rotate(-90)" font-size="8.6" text-anchor="middle" fill="#2a2a2a" stroke="#2a2a2a" stroke-width="0.2">del2AA/+</text>
<g clip-path="url(#cp6)">
<rect x="368.8" y="365.6" width="143.5" height="48.8" fill="#d0c6de"/>
<g filter="url(#blr)">
<circle cx="374.9" cy="373.3" r="7.35" fill="url(#g6)"/>
<circle cx="393.6" cy="372.6" r="9.45" fill="url(#g6)"/>
<circle cx="415.8" cy="371.9" r="9.45" fill="url(#g6)"/>
<circle cx="439" cy="368.5" r="6.83" fill="url(#g6)"/>
<circle cx="370.8" cy="392" r="7.35" fill="url(#g6)"/>
<circle cx="391.5" cy="392" r="10.5" fill="url(#g6)"/>
<circle cx="412.3" cy="391.3" r="8.72" fill="url(#gp)"/>
<circle cx="435.9" cy="386.5" r="8.93" fill="url(#g6)"/>
<circle cx="386.7" cy="409.3" r="8.72" fill="url(#g6)"/>
<circle cx="408.2" cy="408" r="9.03" fill="url(#g6)"/>
<circle cx="370" cy="410" r="6.3" fill="url(#g6)"/>
<circle cx="464.6" cy="374.1" r="9.13" fill="url(#g6)"/>
<circle cx="495.5" cy="369.9" r="8.09" fill="url(#g6)"/>
<circle cx="508.8" cy="376.9" r="7.88" fill="url(#g6)"/>
<circle cx="454.7" cy="396.6" r="9.55" fill="url(#g6)"/>
<circle cx="480" cy="405" r="9.55" fill="url(#g6)"/>
<circle cx="444.2" cy="411.3" r="6.3" fill="url(#g6)"/>
</g>
</g>
<rect x="368.8" y="365.6" width="143.5" height="48.8" fill="none" stroke="#2a2228" stroke-width="1.4"/>
<text transform="translate(363.41 390) rotate(-90)" font-size="8.6" text-anchor="middle" fill="#2a2a2a" stroke="#2a2a2a" stroke-width="0.2">Y175Lfs/+</text>
<g clip-path="url(#cp7)">
<rect x="368.8" y="424.3" width="143.5" height="49.7" fill="#c6bfd9"/>
<g filter="url(#blr)">
<circle cx="376.5" cy="431.5" r="7.35" fill="url(#g7)"/>
<circle cx="391" cy="442.3" r="8.4" fill="url(#g7)"/>
<circle cx="412.9" cy="436" r="8.4" fill="url(#g7)"/>
<circle cx="406" cy="455.6" r="8.93" fill="url(#g7)"/>
<circle cx="383.5" cy="458.4" r="8.4" fill="url(#g7)"/>
<circle cx="423.8" cy="461.9" r="8.93" fill="url(#g7)"/>
<circle cx="435.4" cy="433" r="8.4" fill="url(#g7)"/>
<circle cx="434.2" cy="451.5" r="8.4" fill="url(#g7)"/>
<circle cx="454.7" cy="432.4" r="8.09" fill="url(#g7)"/>
<circle cx="472.3" cy="433.1" r="8.09" fill="url(#g7)"/>
<circle cx="489.9" cy="435.9" r="8.82" fill="url(#g7)"/>
<circle cx="506" cy="431" r="7.35" fill="url(#g7)"/>
<circle cx="473.7" cy="450.7" r="8.82" fill="url(#g7)"/>
<circle cx="489.9" cy="456.3" r="8.82" fill="url(#g7)"/>
<circle cx="506.7" cy="447.9" r="7.88" fill="url(#g7)"/>
<circle cx="454" cy="461.9" r="10.29" fill="url(#g7)"/>
<circle cx="479.3" cy="469" r="7.88" fill="url(#g7)"/>
<circle cx="441.4" cy="449.3" r="6.3" fill="url(#g7)"/>
<circle cx="370" cy="445" r="6.3" fill="url(#g7)"/>
</g>
</g>
<rect x="368.8" y="424.3" width="143.5" height="49.7" fill="none" stroke="#2a2228" stroke-width="1.4"/>
<text transform="translate(363.41 449.15) rotate(-90)" font-size="8.6" text-anchor="middle" fill="#2a2a2a" stroke="#2a2a2a" stroke-width="0.2">Q548X/+</text>
<rect x="369" y="168.5" width="45.8" height="14" fill="#f7e5ed"/>
<text x="376" y="178.1" font-size="8.8" fill="#463a40" textLength="33" lengthAdjust="spacingAndGlyphs" stroke="#463a40" stroke-width="0.2">6.9-8.7%</text>
<rect x="369" y="282.9" width="47.6" height="14.7" fill="#f7e5ed"/>
<text x="376.5" y="292.3" font-size="8.8" fill="#463a40" textLength="33.3" lengthAdjust="spacingAndGlyphs" stroke="#463a40" stroke-width="0.2">4.0-6.9%</text>
<rect x="369" y="342" width="54.8" height="14.1" fill="#f7e5ed"/>
<text x="377.4" y="351.2" font-size="8.8" fill="#463a40" textLength="38.5" lengthAdjust="spacingAndGlyphs" stroke="#463a40" stroke-width="0.2">3.6-10.4%</text>
<polygon points="407.7,147.3 400.8,149.2 403,153" fill="#111"/>
<polygon points="496.3,148.6 498.3,141.1 502,143.7" fill="#111"/>
<polygon points="435.6,278.6 430.4,282.7 433.6,284.7" fill="#111"/>
<polygon points="413.4,326.7 419.7,329.8 417.1,332.5" fill="#111"/>
<polygon points="496.3,334.7 499.5,328.1 502.3,330.7" fill="#111"/>
<circle cx="419.8" cy="140.5" r="1.0" fill="#5e4070"/>
<circle cx="415.5" cy="149" r="1.0" fill="#5e4070"/>
<circle cx="408.5" cy="153.5" r="1.0" fill="#5e4070"/>
<circle cx="483" cy="158" r="1.0" fill="#5e4070"/>
<circle cx="467" cy="329" r="1.0" fill="#5e4070"/>
<circle cx="483" cy="350" r="1.0" fill="#5e4070"/>
<line x1="0" y1="0.5" x2="520" y2="0.5" stroke="#6e6e6e" stroke-width="1"/>
<line x1="0.5" y1="0" x2="0.5" y2="726" stroke="#5e5e5e" stroke-width="1.1"/>
<line x1="519.3" y1="0" x2="519.3" y2="726" stroke="#555" stroke-width="1.4"/>
<line x1="0" y1="725.2" x2="520" y2="725.2" stroke="#555" stroke-width="1.6"/>
</svg>
</body></html>
